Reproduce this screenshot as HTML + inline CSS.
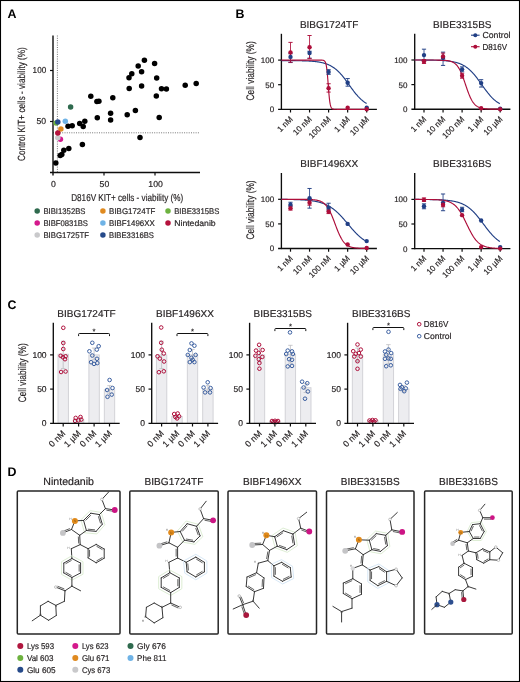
<!DOCTYPE html>
<html><head><meta charset="utf-8"><style>
html,body{margin:0;padding:0;background:#fff;overflow:hidden;}
svg{display:block;will-change:transform;}
text{font-family:"Liberation Sans",sans-serif;text-rendering:geometricPrecision;}
</style></head><body>
<svg width="520" height="682" viewBox="0 0 520 682">
<rect x="0.5" y="0.5" width="519" height="681" fill="none" stroke="#000" stroke-width="1.1"/>
<text x="7.60" y="17.90" font-size="12.4" fill="#000" font-weight="bold">A</text>
<text x="235.60" y="18.40" font-size="12.4" fill="#000" font-weight="bold">B</text>
<text x="7.60" y="309.00" font-size="12.4" fill="#000" font-weight="bold">C</text>
<text x="7.60" y="476.20" font-size="12.4" fill="#000" font-weight="bold">D</text>
<line x1="57.40" y1="35.50" x2="57.40" y2="172.50" stroke="#555" stroke-width="0.8" stroke-dasharray="1 1.3"/>
<line x1="53.00" y1="132.80" x2="199.50" y2="132.80" stroke="#555" stroke-width="0.8" stroke-dasharray="1 1.3"/>
<line x1="53.00" y1="35.50" x2="53.00" y2="175.50" stroke="#0d0d0d" stroke-width="1.4"/>
<line x1="50.00" y1="172.50" x2="200.00" y2="172.50" stroke="#0d0d0d" stroke-width="1.4"/>
<line x1="50.00" y1="121.50" x2="53.00" y2="121.50" stroke="#0d0d0d" stroke-width="1.2"/>
<line x1="104.00" y1="172.50" x2="104.00" y2="175.50" stroke="#0d0d0d" stroke-width="1.2"/>
<line x1="50.00" y1="70.50" x2="53.00" y2="70.50" stroke="#0d0d0d" stroke-width="1.2"/>
<line x1="155.00" y1="172.50" x2="155.00" y2="175.50" stroke="#0d0d0d" stroke-width="1.2"/>
<text x="46.20" y="73.40" font-size="8.7" text-anchor="end" fill="#231f20" stroke="#231f20" stroke-width="0.18" textLength="13.60" lengthAdjust="spacingAndGlyphs">100</text>
<text x="46.20" y="124.40" font-size="8.7" text-anchor="end" fill="#231f20" stroke="#231f20" stroke-width="0.18">50</text>
<text x="53.30" y="186.80" font-size="8.7" text-anchor="middle" fill="#231f20" stroke="#231f20" stroke-width="0.18">0</text>
<text x="104.40" y="186.80" font-size="8.7" text-anchor="middle" fill="#231f20" stroke="#231f20" stroke-width="0.18">50</text>
<text x="155.60" y="186.80" font-size="8.7" text-anchor="middle" fill="#231f20" stroke="#231f20" stroke-width="0.18">100</text>
<text x="71.20" y="200.70" font-size="10" fill="#231f20" stroke="#231f20" stroke-width="0.18" textLength="112.00" lengthAdjust="spacingAndGlyphs">D816V KIT+ cells - viability (%)</text>
<text x="25.30" y="161.00" font-size="10.4" fill="#231f20" stroke="#231f20" stroke-width="0.18" textLength="113.80" lengthAdjust="spacingAndGlyphs" transform="rotate(-90 25.30 161.00)">Control KIT+ cells - viability (%)</text>
<circle cx="90.80" cy="96.30" r="2.75" fill="#000"/>
<circle cx="96.90" cy="101.50" r="2.75" fill="#000"/>
<circle cx="98.90" cy="101.20" r="2.75" fill="#000"/>
<circle cx="112.80" cy="97.70" r="2.75" fill="#000"/>
<circle cx="129.00" cy="77.70" r="2.75" fill="#000"/>
<circle cx="129.20" cy="88.50" r="2.75" fill="#000"/>
<circle cx="110.60" cy="113.30" r="2.75" fill="#000"/>
<circle cx="127.20" cy="114.70" r="2.75" fill="#000"/>
<circle cx="97.30" cy="117.80" r="2.75" fill="#000"/>
<circle cx="110.60" cy="120.10" r="2.75" fill="#000"/>
<circle cx="68.00" cy="126.20" r="2.75" fill="#000"/>
<circle cx="72.20" cy="125.80" r="2.75" fill="#000"/>
<circle cx="79.70" cy="123.60" r="2.75" fill="#000"/>
<circle cx="84.80" cy="121.20" r="2.75" fill="#000"/>
<circle cx="83.20" cy="126.50" r="2.75" fill="#000"/>
<circle cx="144.40" cy="60.20" r="2.75" fill="#000"/>
<circle cx="154.60" cy="63.40" r="2.75" fill="#000"/>
<circle cx="138.20" cy="66.00" r="2.75" fill="#000"/>
<circle cx="131.80" cy="73.70" r="2.75" fill="#000"/>
<circle cx="141.60" cy="71.70" r="2.75" fill="#000"/>
<circle cx="156.70" cy="78.10" r="2.75" fill="#000"/>
<circle cx="141.60" cy="85.90" r="2.75" fill="#000"/>
<circle cx="161.50" cy="88.80" r="2.75" fill="#000"/>
<circle cx="166.40" cy="89.00" r="2.75" fill="#000"/>
<circle cx="185.20" cy="85.30" r="2.75" fill="#000"/>
<circle cx="196.20" cy="83.40" r="2.75" fill="#000"/>
<circle cx="156.30" cy="95.90" r="2.75" fill="#000"/>
<circle cx="135.40" cy="110.50" r="2.75" fill="#000"/>
<circle cx="159.20" cy="117.40" r="2.75" fill="#000"/>
<circle cx="140.00" cy="137.40" r="2.75" fill="#000"/>
<circle cx="55.80" cy="163.10" r="2.75" fill="#000"/>
<circle cx="60.20" cy="155.50" r="2.75" fill="#000"/>
<circle cx="61.80" cy="154.60" r="2.75" fill="#000"/>
<circle cx="63.80" cy="150.30" r="2.75" fill="#000"/>
<circle cx="68.80" cy="148.50" r="2.75" fill="#000"/>
<circle cx="82.40" cy="144.60" r="2.75" fill="#000"/>
<circle cx="60.40" cy="139.30" r="2.75" fill="#d4198c"/>
<circle cx="57.80" cy="137.70" r="2.75" fill="#c9c9cb"/>
<circle cx="60.90" cy="129.00" r="2.75" fill="#e08a1f"/>
<circle cx="57.80" cy="133.00" r="2.75" fill="#b5123c"/>
<circle cx="56.10" cy="123.10" r="2.75" fill="#6db23f"/>
<circle cx="57.80" cy="122.00" r="2.75" fill="#264a8a"/>
<circle cx="65.30" cy="121.20" r="2.75" fill="#6fb3e6"/>
<circle cx="70.60" cy="106.90" r="2.75" fill="#2f6a4e"/>
<circle cx="37.20" cy="210.90" r="2.75" fill="#2f6a4e"/>
<text x="43.40" y="213.50" font-size="8.2" fill="#231f20" stroke="#231f20" stroke-width="0.18" textLength="42.10" lengthAdjust="spacingAndGlyphs">BIBI1352BS</text>
<circle cx="102.90" cy="210.90" r="2.75" fill="#e08a1f"/>
<text x="109.10" y="213.50" font-size="8.2" fill="#231f20" stroke="#231f20" stroke-width="0.18" textLength="46.30" lengthAdjust="spacingAndGlyphs">BIBG1724TF</text>
<circle cx="168.00" cy="210.90" r="2.75" fill="#6db23f"/>
<text x="174.20" y="213.50" font-size="8.2" fill="#231f20" stroke="#231f20" stroke-width="0.18" textLength="45.10" lengthAdjust="spacingAndGlyphs">BIBE3315BS</text>
<circle cx="37.20" cy="222.90" r="2.75" fill="#d4198c"/>
<text x="43.40" y="225.50" font-size="8.2" fill="#231f20" stroke="#231f20" stroke-width="0.18" textLength="44.60" lengthAdjust="spacingAndGlyphs">BIBF0831BS</text>
<circle cx="102.90" cy="222.90" r="2.75" fill="#6fb3e6"/>
<text x="109.10" y="225.50" font-size="8.2" fill="#231f20" stroke="#231f20" stroke-width="0.18" textLength="45.60" lengthAdjust="spacingAndGlyphs">BIBF1496XX</text>
<circle cx="168.00" cy="222.90" r="2.75" fill="#b5123c"/>
<text x="174.20" y="225.50" font-size="8.2" fill="#231f20" stroke="#231f20" stroke-width="0.18" textLength="41.50" lengthAdjust="spacingAndGlyphs">Nintedanib</text>
<circle cx="37.20" cy="235.00" r="2.75" fill="#c9c9cb"/>
<text x="43.40" y="237.60" font-size="8.2" fill="#231f20" stroke="#231f20" stroke-width="0.18" textLength="45.70" lengthAdjust="spacingAndGlyphs">BIBG1725TF</text>
<circle cx="102.90" cy="235.00" r="2.75" fill="#264a8a"/>
<text x="109.10" y="237.60" font-size="8.2" fill="#231f20" stroke="#231f20" stroke-width="0.18" textLength="44.90" lengthAdjust="spacingAndGlyphs">BIBE3316BS</text>
<text x="329.10" y="27.70" font-size="10" text-anchor="middle" fill="#231f20" stroke="#231f20" stroke-width="0.18">BIBG1724TF</text>
<line x1="281.40" y1="33.80" x2="281.40" y2="109.90" stroke="#0d0d0d" stroke-width="1.35"/>
<line x1="278.10" y1="109.30" x2="376.90" y2="109.30" stroke="#0d0d0d" stroke-width="1.35"/>
<line x1="278.10" y1="84.70" x2="281.40" y2="84.70" stroke="#0d0d0d" stroke-width="1.2"/>
<line x1="278.10" y1="60.10" x2="281.40" y2="60.10" stroke="#0d0d0d" stroke-width="1.2"/>
<line x1="290.50" y1="109.30" x2="290.50" y2="112.50" stroke="#0d0d0d" stroke-width="1.2"/>
<line x1="309.55" y1="109.30" x2="309.55" y2="112.50" stroke="#0d0d0d" stroke-width="1.2"/>
<line x1="328.60" y1="109.30" x2="328.60" y2="112.50" stroke="#0d0d0d" stroke-width="1.2"/>
<line x1="347.65" y1="109.30" x2="347.65" y2="112.50" stroke="#0d0d0d" stroke-width="1.2"/>
<line x1="366.70" y1="109.30" x2="366.70" y2="112.50" stroke="#0d0d0d" stroke-width="1.2"/>
<polyline points="281.40,60.61 281.80,60.61 282.20,60.61 282.60,60.62 283.00,60.62 283.40,60.62 283.80,60.62 284.20,60.62 284.60,60.62 285.00,60.62 285.40,60.62 285.80,60.63 286.20,60.63 286.60,60.63 287.00,60.63 287.40,60.63 287.80,60.63 288.20,60.64 288.60,60.64 289.00,60.64 289.40,60.64 289.80,60.65 290.20,60.65 290.60,60.65 291.00,60.65 291.40,60.66 291.80,60.66 292.20,60.66 292.60,60.67 293.00,60.67 293.40,60.67 293.80,60.68 294.20,60.68 294.60,60.68 295.00,60.69 295.40,60.69 295.80,60.70 296.20,60.70 296.60,60.71 297.00,60.71 297.40,60.72 297.80,60.73 298.20,60.73 298.60,60.74 299.00,60.74 299.40,60.75 299.80,60.76 300.20,60.77 300.60,60.78 301.00,60.78 301.40,60.79 301.80,60.80 302.20,60.81 302.60,60.82 303.00,60.83 303.40,60.84 303.80,60.86 304.20,60.87 304.60,60.88 305.00,60.90 305.40,60.91 305.80,60.92 306.20,60.94 306.60,60.96 307.00,60.97 307.40,60.99 307.80,61.01 308.20,61.03 308.60,61.05 309.00,61.07 309.40,61.09 309.80,61.12 310.20,61.14 310.60,61.17 311.00,61.19 311.40,61.22 311.80,61.25 312.20,61.28 312.60,61.31 313.00,61.35 313.40,61.38 313.80,61.42 314.20,61.45 314.60,61.49 315.00,61.54 315.40,61.58 315.80,61.62 316.20,61.67 316.60,61.72 317.00,61.77 317.40,61.83 317.80,61.88 318.20,61.94 318.60,62.00 319.00,62.07 319.40,62.14 319.80,62.21 320.20,62.28 320.60,62.36 321.00,62.44 321.40,62.52 321.80,62.61 322.20,62.70 322.60,62.79 323.00,62.89 323.40,62.99 323.80,63.10 324.20,63.21 324.60,63.33 325.00,63.45 325.40,63.57 325.80,63.71 326.20,63.84 326.60,63.98 327.00,64.13 327.40,64.29 327.80,64.45 328.20,64.61 328.60,64.78 329.00,64.96 329.40,65.15 329.80,65.34 330.20,65.54 330.60,65.75 331.00,65.97 331.40,66.19 331.80,66.42 332.20,66.66 332.60,66.91 333.00,67.17 333.40,67.43 333.80,67.71 334.20,67.99 334.60,68.29 335.00,68.59 335.40,68.90 335.80,69.22 336.20,69.55 336.60,69.89 337.00,70.24 337.40,70.60 337.80,70.97 338.20,71.35 338.60,71.74 339.00,72.14 339.40,72.55 339.80,72.97 340.20,73.40 340.60,73.84 341.00,74.29 341.40,74.74 341.80,75.21 342.20,75.68 342.60,76.17 343.00,76.66 343.40,77.16 343.80,77.66 344.20,78.17 344.60,78.69 345.00,79.22 345.40,79.75 345.80,80.29 346.20,80.83 346.60,81.37 347.00,81.92 347.40,82.47 347.80,83.03 348.20,83.59 348.60,84.14 349.00,84.70 349.40,85.26 349.80,85.82 350.20,86.38 350.60,86.94 351.00,87.49 351.40,88.04 351.80,88.59 352.20,89.14 352.60,89.68 353.00,90.21 353.40,90.74 353.80,91.27 354.20,91.78 354.60,92.30 355.00,92.80 355.40,93.30 355.80,93.79 356.20,94.27 356.60,94.74 357.00,95.21 357.40,95.66 357.80,96.11 358.20,96.55 358.60,96.97 359.00,97.39 359.40,97.80 359.80,98.20 360.20,98.59 360.60,98.97 361.00,99.34 361.40,99.69 361.80,100.04 362.20,100.38 362.60,100.71 363.00,101.03 363.40,101.34 363.80,101.64 364.20,101.94 364.60,102.22 365.00,102.49 365.40,102.76 365.80,103.01 366.20,103.26 366.60,103.50" fill="none" stroke="#213f85" stroke-width="1.15"/>
<polyline points="281.40,60.10 281.80,60.10 282.20,60.10 282.60,60.10 283.00,60.10 283.40,60.10 283.80,60.10 284.20,60.10 284.60,60.10 285.00,60.10 285.40,60.10 285.80,60.10 286.20,60.10 286.60,60.10 287.00,60.10 287.40,60.10 287.80,60.10 288.20,60.10 288.60,60.10 289.00,60.10 289.40,60.10 289.80,60.10 290.20,60.10 290.60,60.10 291.00,60.10 291.40,60.10 291.80,60.10 292.20,60.10 292.60,60.10 293.00,60.10 293.40,60.10 293.80,60.10 294.20,60.10 294.60,60.10 295.00,60.10 295.40,60.10 295.80,60.10 296.20,60.10 296.60,60.10 297.00,60.10 297.40,60.10 297.80,60.10 298.20,60.10 298.60,60.10 299.00,60.10 299.40,60.10 299.80,60.10 300.20,60.10 300.60,60.10 301.00,60.10 301.40,60.10 301.80,60.10 302.20,60.10 302.60,60.10 303.00,60.10 303.40,60.10 303.80,60.10 304.20,60.10 304.60,60.10 305.00,60.10 305.40,60.10 305.80,60.10 306.20,60.10 306.60,60.10 307.00,60.10 307.40,60.10 307.80,60.10 308.20,60.10 308.60,60.10 309.00,60.10 309.40,60.10 309.80,60.10 310.20,60.10 310.60,60.10 311.00,60.10 311.40,60.10 311.80,60.10 312.20,60.10 312.60,60.10 313.00,60.10 313.40,60.10 313.80,60.10 314.20,60.10 314.60,60.10 315.00,60.10 315.40,60.10 315.80,60.10 316.20,60.10 316.60,60.10 317.00,60.10 317.40,60.10 317.80,60.10 318.20,60.10 318.60,60.10 319.00,60.10 319.40,60.10 319.80,60.11 320.20,60.11 320.60,60.11 321.00,60.12 321.40,60.13 321.80,60.15 322.20,60.17 322.60,60.21 323.00,60.27 323.40,60.36 323.80,60.50 324.20,60.71 324.60,61.04 325.00,61.54 325.40,62.29 325.80,63.40 326.20,65.02 326.60,67.31 327.00,70.42 327.40,74.41 327.80,79.19 328.20,84.45 328.60,89.73 329.00,94.56 329.40,98.64 329.80,101.83 330.20,104.19 330.60,105.87 331.00,107.02 331.40,107.80 331.80,108.32 332.20,108.66 332.60,108.88 333.00,109.03 333.40,109.13 333.80,109.19 334.20,109.23 334.60,109.25 335.00,109.27 335.40,109.28 335.80,109.29 336.20,109.29 336.60,109.29 337.00,109.30 337.40,109.30 337.80,109.30 338.20,109.30 338.60,109.30 339.00,109.30 339.40,109.30 339.80,109.30 340.20,109.30 340.60,109.30 341.00,109.30 341.40,109.30 341.80,109.30 342.20,109.30 342.60,109.30 343.00,109.30 343.40,109.30 343.80,109.30 344.20,109.30 344.60,109.30 345.00,109.30 345.40,109.30 345.80,109.30 346.20,109.30 346.60,109.30 347.00,109.30 347.40,109.30 347.80,109.30 348.20,109.30 348.60,109.30 349.00,109.30 349.40,109.30 349.80,109.30 350.20,109.30 350.60,109.30 351.00,109.30 351.40,109.30 351.80,109.30 352.20,109.30 352.60,109.30 353.00,109.30 353.40,109.30 353.80,109.30 354.20,109.30 354.60,109.30 355.00,109.30 355.40,109.30 355.80,109.30 356.20,109.30 356.60,109.30 357.00,109.30 357.40,109.30 357.80,109.30 358.20,109.30 358.60,109.30 359.00,109.30 359.40,109.30 359.80,109.30 360.20,109.30 360.60,109.30 361.00,109.30 361.40,109.30 361.80,109.30 362.20,109.30 362.60,109.30 363.00,109.30 363.40,109.30 363.80,109.30 364.20,109.30 364.60,109.30 365.00,109.30 365.40,109.30 365.80,109.30 366.20,109.30 366.60,109.30" fill="none" stroke="#ad0e3a" stroke-width="1.15"/>
<line x1="290.50" y1="53.70" x2="290.50" y2="62.56" stroke="#213f85" stroke-width="0.85"/>
<line x1="288.40" y1="53.70" x2="292.60" y2="53.70" stroke="#213f85" stroke-width="0.95"/>
<line x1="288.40" y1="62.56" x2="292.60" y2="62.56" stroke="#213f85" stroke-width="0.95"/>
<line x1="309.55" y1="51.24" x2="309.55" y2="58.13" stroke="#213f85" stroke-width="0.85"/>
<line x1="307.45" y1="51.24" x2="311.65" y2="51.24" stroke="#213f85" stroke-width="0.95"/>
<line x1="307.45" y1="58.13" x2="311.65" y2="58.13" stroke="#213f85" stroke-width="0.95"/>
<line x1="328.60" y1="69.69" x2="328.60" y2="74.37" stroke="#213f85" stroke-width="0.85"/>
<line x1="326.50" y1="69.69" x2="330.70" y2="69.69" stroke="#213f85" stroke-width="0.95"/>
<line x1="326.50" y1="74.37" x2="330.70" y2="74.37" stroke="#213f85" stroke-width="0.95"/>
<line x1="347.65" y1="78.55" x2="347.65" y2="86.18" stroke="#213f85" stroke-width="0.85"/>
<line x1="345.55" y1="78.55" x2="349.75" y2="78.55" stroke="#213f85" stroke-width="0.95"/>
<line x1="345.55" y1="86.18" x2="349.75" y2="86.18" stroke="#213f85" stroke-width="0.95"/>
<line x1="290.50" y1="42.39" x2="290.50" y2="62.26" stroke="#ad0e3a" stroke-width="0.85"/>
<line x1="288.40" y1="42.39" x2="292.60" y2="42.39" stroke="#ad0e3a" stroke-width="0.95"/>
<line x1="288.40" y1="62.26" x2="292.60" y2="62.26" stroke="#ad0e3a" stroke-width="0.95"/>
<line x1="309.55" y1="35.50" x2="309.55" y2="58.62" stroke="#ad0e3a" stroke-width="0.85"/>
<line x1="307.45" y1="35.50" x2="311.65" y2="35.50" stroke="#ad0e3a" stroke-width="0.95"/>
<line x1="307.45" y1="58.62" x2="311.65" y2="58.62" stroke="#ad0e3a" stroke-width="0.95"/>
<line x1="328.60" y1="83.72" x2="328.60" y2="92.08" stroke="#ad0e3a" stroke-width="0.85"/>
<line x1="326.50" y1="83.72" x2="330.70" y2="83.72" stroke="#ad0e3a" stroke-width="0.95"/>
<line x1="326.50" y1="92.08" x2="330.70" y2="92.08" stroke="#ad0e3a" stroke-width="0.95"/>
<circle cx="290.50" cy="56.90" r="2.2" fill="#213f85"/>
<circle cx="309.55" cy="52.97" r="2.2" fill="#213f85"/>
<circle cx="328.60" cy="71.91" r="2.2" fill="#213f85"/>
<circle cx="347.65" cy="82.73" r="2.2" fill="#213f85"/>
<circle cx="366.70" cy="107.82" r="2.2" fill="#213f85"/>
<circle cx="290.50" cy="52.42" r="2.2" fill="#ad0e3a"/>
<circle cx="309.55" cy="47.31" r="2.2" fill="#ad0e3a"/>
<circle cx="328.60" cy="88.14" r="2.2" fill="#ad0e3a"/>
<circle cx="347.65" cy="107.82" r="2.2" fill="#ad0e3a"/>
<circle cx="366.70" cy="109.30" r="2.2" fill="#ad0e3a"/>
<text x="274.20" y="63.00" font-size="8" text-anchor="end" fill="#231f20" stroke="#231f20" stroke-width="0.18">100</text>
<text x="274.20" y="87.60" font-size="8" text-anchor="end" fill="#231f20" stroke="#231f20" stroke-width="0.18">50</text>
<text x="274.20" y="112.20" font-size="8" text-anchor="end" fill="#231f20" stroke="#231f20" stroke-width="0.18">0</text>
<text x="254.50" y="100.40" font-size="11" fill="#231f20" stroke="#231f20" stroke-width="0.18" textLength="59.20" lengthAdjust="spacingAndGlyphs" transform="rotate(-90 254.50 100.40)">Cell viability (%)</text>
<text x="293.30" y="119.70" font-size="8.2" text-anchor="end" fill="#231f20" stroke="#231f20" stroke-width="0.18" transform="rotate(-45 293.30 119.70)">1 nM</text>
<text x="312.35" y="119.70" font-size="8.2" text-anchor="end" fill="#231f20" stroke="#231f20" stroke-width="0.18" transform="rotate(-45 312.35 119.70)">10 nM</text>
<text x="331.40" y="119.70" font-size="8.2" text-anchor="end" fill="#231f20" stroke="#231f20" stroke-width="0.18" transform="rotate(-45 331.40 119.70)">100 nM</text>
<text x="350.45" y="119.70" font-size="8.2" text-anchor="end" fill="#231f20" stroke="#231f20" stroke-width="0.18" transform="rotate(-45 350.45 119.70)">1 µM</text>
<text x="369.50" y="119.70" font-size="8.2" text-anchor="end" fill="#231f20" stroke="#231f20" stroke-width="0.18" transform="rotate(-45 369.50 119.70)">10 µM</text>
<text x="462.30" y="27.60" font-size="10" text-anchor="middle" fill="#231f20" stroke="#231f20" stroke-width="0.18">BIBE3315BS</text>
<line x1="414.70" y1="33.70" x2="414.70" y2="109.80" stroke="#0d0d0d" stroke-width="1.35"/>
<line x1="411.40" y1="109.20" x2="510.40" y2="109.20" stroke="#0d0d0d" stroke-width="1.35"/>
<line x1="411.40" y1="84.60" x2="414.70" y2="84.60" stroke="#0d0d0d" stroke-width="1.2"/>
<line x1="411.40" y1="60.00" x2="414.70" y2="60.00" stroke="#0d0d0d" stroke-width="1.2"/>
<line x1="424.00" y1="109.20" x2="424.00" y2="112.40" stroke="#0d0d0d" stroke-width="1.2"/>
<line x1="443.05" y1="109.20" x2="443.05" y2="112.40" stroke="#0d0d0d" stroke-width="1.2"/>
<line x1="462.10" y1="109.20" x2="462.10" y2="112.40" stroke="#0d0d0d" stroke-width="1.2"/>
<line x1="481.15" y1="109.20" x2="481.15" y2="112.40" stroke="#0d0d0d" stroke-width="1.2"/>
<line x1="500.20" y1="109.20" x2="500.20" y2="112.40" stroke="#0d0d0d" stroke-width="1.2"/>
<polyline points="414.70,60.02 415.10,60.02 415.50,60.02 415.90,60.03 416.30,60.03 416.70,60.03 417.10,60.03 417.50,60.03 417.90,60.03 418.30,60.03 418.70,60.04 419.10,60.04 419.50,60.04 419.90,60.04 420.30,60.04 420.70,60.04 421.10,60.05 421.50,60.05 421.90,60.05 422.30,60.05 422.70,60.06 423.10,60.06 423.50,60.06 423.90,60.06 424.30,60.07 424.70,60.07 425.10,60.07 425.50,60.08 425.90,60.08 426.30,60.08 426.70,60.09 427.10,60.09 427.50,60.10 427.90,60.10 428.30,60.11 428.70,60.11 429.10,60.12 429.50,60.12 429.90,60.13 430.30,60.13 430.70,60.14 431.10,60.15 431.50,60.15 431.90,60.16 432.30,60.17 432.70,60.18 433.10,60.18 433.50,60.19 433.90,60.20 434.30,60.21 434.70,60.22 435.10,60.23 435.50,60.24 435.90,60.25 436.30,60.27 436.70,60.28 437.10,60.29 437.50,60.30 437.90,60.32 438.30,60.33 438.70,60.35 439.10,60.37 439.50,60.38 439.90,60.40 440.30,60.42 440.70,60.44 441.10,60.46 441.50,60.48 441.90,60.50 442.30,60.53 442.70,60.55 443.10,60.58 443.50,60.60 443.90,60.63 444.30,60.66 444.70,60.69 445.10,60.72 445.50,60.76 445.90,60.79 446.30,60.83 446.70,60.87 447.10,60.91 447.50,60.95 447.90,60.99 448.30,61.04 448.70,61.09 449.10,61.14 449.50,61.19 449.90,61.24 450.30,61.30 450.70,61.36 451.10,61.42 451.50,61.48 451.90,61.55 452.30,61.62 452.70,61.70 453.10,61.77 453.50,61.85 453.90,61.94 454.30,62.02 454.70,62.12 455.10,62.21 455.50,62.31 455.90,62.41 456.30,62.52 456.70,62.63 457.10,62.75 457.50,62.87 457.90,63.00 458.30,63.13 458.70,63.27 459.10,63.41 459.50,63.56 459.90,63.71 460.30,63.87 460.70,64.04 461.10,64.21 461.50,64.39 461.90,64.58 462.30,64.78 462.70,64.98 463.10,65.19 463.50,65.40 463.90,65.63 464.30,65.86 464.70,66.10 465.10,66.35 465.50,66.61 465.90,66.88 466.30,67.16 466.70,67.44 467.10,67.74 467.50,68.04 467.90,68.35 468.30,68.68 468.70,69.01 469.10,69.35 469.50,69.71 469.90,70.07 470.30,70.44 470.70,70.82 471.10,71.22 471.50,71.62 471.90,72.03 472.30,72.46 472.70,72.89 473.10,73.33 473.50,73.78 473.90,74.24 474.30,74.71 474.70,75.19 475.10,75.67 475.50,76.17 475.90,76.67 476.30,77.18 476.70,77.70 477.10,78.22 477.50,78.75 477.90,79.29 478.30,79.83 478.70,80.37 479.10,80.93 479.50,81.48 479.90,82.04 480.30,82.60 480.70,83.16 481.10,83.72 481.50,84.29 481.90,84.85 482.30,85.42 482.70,85.98 483.10,86.54 483.50,87.10 483.90,87.66 484.30,88.22 484.70,88.77 485.10,89.31 485.50,89.85 485.90,90.39 486.30,90.92 486.70,91.45 487.10,91.96 487.50,92.47 487.90,92.98 488.30,93.47 488.70,93.96 489.10,94.44 489.50,94.91 489.90,95.37 490.30,95.82 490.70,96.27 491.10,96.70 491.50,97.12 491.90,97.54 492.30,97.94 492.70,98.33 493.10,98.72 493.50,99.09 493.90,99.46 494.30,99.81 494.70,100.15 495.10,100.49 495.50,100.81 495.90,101.13 496.30,101.43 496.70,101.73 497.10,102.01 497.50,102.29 497.90,102.56 498.30,102.82 498.70,103.07 499.10,103.31 499.50,103.55 499.90,103.77" fill="none" stroke="#213f85" stroke-width="1.15"/>
<polyline points="414.70,60.00 415.10,60.00 415.50,60.00 415.90,60.00 416.30,60.00 416.70,60.00 417.10,60.00 417.50,60.00 417.90,60.00 418.30,60.00 418.70,60.00 419.10,60.00 419.50,60.00 419.90,60.00 420.30,60.00 420.70,60.00 421.10,60.00 421.50,60.00 421.90,60.00 422.30,60.00 422.70,60.00 423.10,60.00 423.50,60.00 423.90,60.00 424.30,60.00 424.70,60.00 425.10,60.00 425.50,60.00 425.90,60.00 426.30,60.00 426.70,60.00 427.10,60.00 427.50,60.01 427.90,60.01 428.30,60.01 428.70,60.01 429.10,60.01 429.50,60.01 429.90,60.01 430.30,60.01 430.70,60.01 431.10,60.01 431.50,60.01 431.90,60.01 432.30,60.02 432.70,60.02 433.10,60.02 433.50,60.02 433.90,60.02 434.30,60.03 434.70,60.03 435.10,60.03 435.50,60.03 435.90,60.04 436.30,60.04 436.70,60.05 437.10,60.05 437.50,60.06 437.90,60.06 438.30,60.07 438.70,60.07 439.10,60.08 439.50,60.09 439.90,60.10 440.30,60.11 440.70,60.12 441.10,60.13 441.50,60.15 441.90,60.16 442.30,60.18 442.70,60.20 443.10,60.22 443.50,60.24 443.90,60.26 444.30,60.29 444.70,60.32 445.10,60.35 445.50,60.39 445.90,60.42 446.30,60.47 446.70,60.51 447.10,60.57 447.50,60.62 447.90,60.68 448.30,60.75 448.70,60.83 449.10,60.91 449.50,61.00 449.90,61.10 450.30,61.21 450.70,61.33 451.10,61.46 451.50,61.60 451.90,61.76 452.30,61.93 452.70,62.12 453.10,62.32 453.50,62.55 453.90,62.79 454.30,63.06 454.70,63.35 455.10,63.66 455.50,64.00 455.90,64.37 456.30,64.77 456.70,65.21 457.10,65.67 457.50,66.18 457.90,66.72 458.30,67.30 458.70,67.92 459.10,68.58 459.50,69.29 459.90,70.04 460.30,70.84 460.70,71.68 461.10,72.56 461.50,73.49 461.90,74.45 462.30,75.46 462.70,76.50 463.10,77.58 463.50,78.69 463.90,79.82 464.30,80.97 464.70,82.14 465.10,83.33 465.50,84.51 465.90,85.70 466.30,86.89 466.70,88.06 467.10,89.22 467.50,90.35 467.90,91.46 468.30,92.54 468.70,93.59 469.10,94.60 469.50,95.58 469.90,96.51 470.30,97.40 470.70,98.24 471.10,99.04 471.50,99.80 471.90,100.52 472.30,101.19 472.70,101.81 473.10,102.40 473.50,102.95 473.90,103.46 474.30,103.93 474.70,104.37 475.10,104.77 475.50,105.15 475.90,105.49 476.30,105.81 476.70,106.10 477.10,106.37 477.50,106.62 477.90,106.85 478.30,107.05 478.70,107.24 479.10,107.42 479.50,107.58 479.90,107.72 480.30,107.85 480.70,107.97 481.10,108.09 481.50,108.19 481.90,108.28 482.30,108.36 482.70,108.44 483.10,108.51 483.50,108.57 483.90,108.63 484.30,108.68 484.70,108.73 485.10,108.77 485.50,108.81 485.90,108.85 486.30,108.88 486.70,108.91 487.10,108.93 487.50,108.96 487.90,108.98 488.30,109.00 488.70,109.02 489.10,109.04 489.50,109.05 489.90,109.06 490.30,109.08 490.70,109.09 491.10,109.10 491.50,109.11 491.90,109.12 492.30,109.12 492.70,109.13 493.10,109.14 493.50,109.14 493.90,109.15 494.30,109.15 494.70,109.16 495.10,109.16 495.50,109.16 495.90,109.17 496.30,109.17 496.70,109.17 497.10,109.18 497.50,109.18 497.90,109.18 498.30,109.18 498.70,109.18 499.10,109.19 499.50,109.19 499.90,109.19" fill="none" stroke="#ad0e3a" stroke-width="1.15"/>
<line x1="424.00" y1="49.18" x2="424.00" y2="60.98" stroke="#213f85" stroke-width="0.85"/>
<line x1="421.90" y1="49.18" x2="426.10" y2="49.18" stroke="#213f85" stroke-width="0.95"/>
<line x1="421.90" y1="60.98" x2="426.10" y2="60.98" stroke="#213f85" stroke-width="0.95"/>
<line x1="443.05" y1="52.13" x2="443.05" y2="65.41" stroke="#213f85" stroke-width="0.85"/>
<line x1="440.95" y1="52.13" x2="445.15" y2="52.13" stroke="#213f85" stroke-width="0.95"/>
<line x1="440.95" y1="65.41" x2="445.15" y2="65.41" stroke="#213f85" stroke-width="0.95"/>
<line x1="462.10" y1="66.89" x2="462.10" y2="71.81" stroke="#213f85" stroke-width="0.85"/>
<line x1="460.00" y1="66.89" x2="464.20" y2="66.89" stroke="#213f85" stroke-width="0.95"/>
<line x1="460.00" y1="71.81" x2="464.20" y2="71.81" stroke="#213f85" stroke-width="0.95"/>
<line x1="481.15" y1="79.68" x2="481.15" y2="87.06" stroke="#213f85" stroke-width="0.85"/>
<line x1="479.05" y1="79.68" x2="483.25" y2="79.68" stroke="#213f85" stroke-width="0.95"/>
<line x1="479.05" y1="87.06" x2="483.25" y2="87.06" stroke="#213f85" stroke-width="0.95"/>
<line x1="424.00" y1="59.51" x2="424.00" y2="63.44" stroke="#ad0e3a" stroke-width="0.85"/>
<line x1="421.90" y1="59.51" x2="426.10" y2="59.51" stroke="#ad0e3a" stroke-width="0.95"/>
<line x1="421.90" y1="63.44" x2="426.10" y2="63.44" stroke="#ad0e3a" stroke-width="0.95"/>
<line x1="443.05" y1="53.11" x2="443.05" y2="60.49" stroke="#ad0e3a" stroke-width="0.85"/>
<line x1="440.95" y1="53.11" x2="445.15" y2="53.11" stroke="#ad0e3a" stroke-width="0.95"/>
<line x1="440.95" y1="60.49" x2="445.15" y2="60.49" stroke="#ad0e3a" stroke-width="0.95"/>
<line x1="462.10" y1="73.28" x2="462.10" y2="78.20" stroke="#ad0e3a" stroke-width="0.85"/>
<line x1="460.00" y1="73.28" x2="464.20" y2="73.28" stroke="#ad0e3a" stroke-width="0.95"/>
<line x1="460.00" y1="78.20" x2="464.20" y2="78.20" stroke="#ad0e3a" stroke-width="0.95"/>
<circle cx="424.00" cy="55.08" r="2.2" fill="#213f85"/>
<circle cx="443.05" cy="58.03" r="2.2" fill="#213f85"/>
<circle cx="462.10" cy="69.35" r="2.2" fill="#213f85"/>
<circle cx="481.15" cy="83.12" r="2.2" fill="#213f85"/>
<circle cx="500.20" cy="108.71" r="2.2" fill="#213f85"/>
<circle cx="424.00" cy="61.48" r="2.2" fill="#ad0e3a"/>
<circle cx="443.05" cy="56.56" r="2.2" fill="#ad0e3a"/>
<circle cx="462.10" cy="75.74" r="2.2" fill="#ad0e3a"/>
<circle cx="481.15" cy="108.22" r="2.2" fill="#ad0e3a"/>
<circle cx="500.20" cy="109.20" r="2.2" fill="#ad0e3a"/>
<text x="407.50" y="62.90" font-size="8" text-anchor="end" fill="#231f20" stroke="#231f20" stroke-width="0.18">100</text>
<text x="407.50" y="87.50" font-size="8" text-anchor="end" fill="#231f20" stroke="#231f20" stroke-width="0.18">50</text>
<text x="407.50" y="112.10" font-size="8" text-anchor="end" fill="#231f20" stroke="#231f20" stroke-width="0.18">0</text>
<text x="426.80" y="119.60" font-size="8.2" text-anchor="end" fill="#231f20" stroke="#231f20" stroke-width="0.18" transform="rotate(-45 426.80 119.60)">1 nM</text>
<text x="445.85" y="119.60" font-size="8.2" text-anchor="end" fill="#231f20" stroke="#231f20" stroke-width="0.18" transform="rotate(-45 445.85 119.60)">10 nM</text>
<text x="464.90" y="119.60" font-size="8.2" text-anchor="end" fill="#231f20" stroke="#231f20" stroke-width="0.18" transform="rotate(-45 464.90 119.60)">100 nM</text>
<text x="483.95" y="119.60" font-size="8.2" text-anchor="end" fill="#231f20" stroke="#231f20" stroke-width="0.18" transform="rotate(-45 483.95 119.60)">1 µM</text>
<text x="503.00" y="119.60" font-size="8.2" text-anchor="end" fill="#231f20" stroke="#231f20" stroke-width="0.18" transform="rotate(-45 503.00 119.60)">10 µM</text>
<line x1="471.00" y1="35.20" x2="479.60" y2="35.20" stroke="#213f85" stroke-width="1.1"/>
<circle cx="475.30" cy="35.20" r="2.0" fill="#213f85"/>
<text x="482.50" y="38.10" font-size="8.7" fill="#231f20" stroke="#231f20" stroke-width="0.18">Control</text>
<line x1="471.00" y1="46.70" x2="479.60" y2="46.70" stroke="#ad0e3a" stroke-width="1.1"/>
<circle cx="475.30" cy="46.70" r="2.0" fill="#ad0e3a"/>
<text x="482.50" y="49.60" font-size="8.7" fill="#231f20" stroke="#231f20" stroke-width="0.18" textLength="24.60" lengthAdjust="spacingAndGlyphs">D816V</text>
<text x="329.20" y="166.90" font-size="10" text-anchor="middle" fill="#231f20" stroke="#231f20" stroke-width="0.18">BIBF1496XX</text>
<line x1="281.40" y1="173.00" x2="281.40" y2="249.10" stroke="#0d0d0d" stroke-width="1.35"/>
<line x1="278.10" y1="248.50" x2="376.90" y2="248.50" stroke="#0d0d0d" stroke-width="1.35"/>
<line x1="278.10" y1="223.90" x2="281.40" y2="223.90" stroke="#0d0d0d" stroke-width="1.2"/>
<line x1="278.10" y1="199.30" x2="281.40" y2="199.30" stroke="#0d0d0d" stroke-width="1.2"/>
<line x1="290.50" y1="248.50" x2="290.50" y2="251.70" stroke="#0d0d0d" stroke-width="1.2"/>
<line x1="309.55" y1="248.50" x2="309.55" y2="251.70" stroke="#0d0d0d" stroke-width="1.2"/>
<line x1="328.60" y1="248.50" x2="328.60" y2="251.70" stroke="#0d0d0d" stroke-width="1.2"/>
<line x1="347.65" y1="248.50" x2="347.65" y2="251.70" stroke="#0d0d0d" stroke-width="1.2"/>
<line x1="366.70" y1="248.50" x2="366.70" y2="251.70" stroke="#0d0d0d" stroke-width="1.2"/>
<polyline points="281.40,199.38 281.80,199.38 282.20,199.39 282.60,199.39 283.00,199.39 283.40,199.40 283.80,199.40 284.20,199.40 284.60,199.41 285.00,199.41 285.40,199.42 285.80,199.42 286.20,199.43 286.60,199.43 287.00,199.44 287.40,199.44 287.80,199.45 288.20,199.45 288.60,199.46 289.00,199.47 289.40,199.47 289.80,199.48 290.20,199.49 290.60,199.49 291.00,199.50 291.40,199.51 291.80,199.52 292.20,199.53 292.60,199.53 293.00,199.54 293.40,199.55 293.80,199.56 294.20,199.57 294.60,199.58 295.00,199.60 295.40,199.61 295.80,199.62 296.20,199.63 296.60,199.64 297.00,199.66 297.40,199.67 297.80,199.69 298.20,199.70 298.60,199.72 299.00,199.73 299.40,199.75 299.80,199.77 300.20,199.79 300.60,199.81 301.00,199.83 301.40,199.85 301.80,199.87 302.20,199.89 302.60,199.91 303.00,199.94 303.40,199.96 303.80,199.99 304.20,200.01 304.60,200.04 305.00,200.07 305.40,200.10 305.80,200.13 306.20,200.16 306.60,200.20 307.00,200.23 307.40,200.27 307.80,200.30 308.20,200.34 308.60,200.38 309.00,200.42 309.40,200.47 309.80,200.51 310.20,200.56 310.60,200.61 311.00,200.66 311.40,200.71 311.80,200.76 312.20,200.82 312.60,200.88 313.00,200.94 313.40,201.00 313.80,201.06 314.20,201.13 314.60,201.20 315.00,201.27 315.40,201.35 315.80,201.42 316.20,201.50 316.60,201.59 317.00,201.67 317.40,201.76 317.80,201.85 318.20,201.95 318.60,202.05 319.00,202.15 319.40,202.26 319.80,202.37 320.20,202.48 320.60,202.60 321.00,202.72 321.40,202.84 321.80,202.97 322.20,203.10 322.60,203.24 323.00,203.38 323.40,203.53 323.80,203.68 324.20,203.84 324.60,204.00 325.00,204.17 325.40,204.34 325.80,204.52 326.20,204.70 326.60,204.89 327.00,205.09 327.40,205.29 327.80,205.49 328.20,205.71 328.60,205.92 329.00,206.15 329.40,206.38 329.80,206.62 330.20,206.86 330.60,207.11 331.00,207.37 331.40,207.64 331.80,207.91 332.20,208.18 332.60,208.47 333.00,208.76 333.40,209.06 333.80,209.37 334.20,209.68 334.60,210.00 335.00,210.33 335.40,210.66 335.80,211.00 336.20,211.35 336.60,211.71 337.00,212.07 337.40,212.44 337.80,212.82 338.20,213.20 338.60,213.59 339.00,213.98 339.40,214.38 339.80,214.79 340.20,215.20 340.60,215.62 341.00,216.05 341.40,216.48 341.80,216.91 342.20,217.35 342.60,217.80 343.00,218.25 343.40,218.70 343.80,219.15 344.20,219.61 344.60,220.08 345.00,220.54 345.40,221.01 345.80,221.48 346.20,221.95 346.60,222.43 347.00,222.90 347.40,223.38 347.80,223.85 348.20,224.33 348.60,224.80 349.00,225.28 349.40,225.75 349.80,226.22 350.20,226.69 350.60,227.16 351.00,227.63 351.40,228.09 351.80,228.55 352.20,229.01 352.60,229.46 353.00,229.91 353.40,230.36 353.80,230.80 354.20,231.23 354.60,231.67 355.00,232.09 355.40,232.51 355.80,232.93 356.20,233.33 356.60,233.74 357.00,234.13 357.40,234.52 357.80,234.91 358.20,235.28 358.60,235.66 359.00,236.02 359.40,236.38 359.80,236.73 360.20,237.07 360.60,237.40 361.00,237.73 361.40,238.06 361.80,238.37 362.20,238.68 362.60,238.98 363.00,239.27 363.40,239.56 363.80,239.84 364.20,240.11 364.60,240.38 365.00,240.63 365.40,240.89 365.80,241.13 366.20,241.37 366.60,241.60" fill="none" stroke="#213f85" stroke-width="1.15"/>
<polyline points="281.40,199.30 281.80,199.30 282.20,199.30 282.60,199.30 283.00,199.30 283.40,199.30 283.80,199.30 284.20,199.30 284.60,199.30 285.00,199.30 285.40,199.30 285.80,199.30 286.20,199.30 286.60,199.30 287.00,199.30 287.40,199.30 287.80,199.30 288.20,199.30 288.60,199.30 289.00,199.30 289.40,199.30 289.80,199.30 290.20,199.30 290.60,199.30 291.00,199.30 291.40,199.30 291.80,199.30 292.20,199.30 292.60,199.30 293.00,199.31 293.40,199.31 293.80,199.31 294.20,199.31 294.60,199.31 295.00,199.31 295.40,199.31 295.80,199.31 296.20,199.31 296.60,199.31 297.00,199.31 297.40,199.31 297.80,199.31 298.20,199.32 298.60,199.32 299.00,199.32 299.40,199.32 299.80,199.32 300.20,199.32 300.60,199.33 301.00,199.33 301.40,199.33 301.80,199.34 302.20,199.34 302.60,199.34 303.00,199.35 303.40,199.35 303.80,199.35 304.20,199.36 304.60,199.36 305.00,199.37 305.40,199.38 305.80,199.38 306.20,199.39 306.60,199.40 307.00,199.41 307.40,199.42 307.80,199.43 308.20,199.44 308.60,199.45 309.00,199.47 309.40,199.48 309.80,199.50 310.20,199.52 310.60,199.54 311.00,199.56 311.40,199.58 311.80,199.61 312.20,199.64 312.60,199.67 313.00,199.70 313.40,199.74 313.80,199.78 314.20,199.82 314.60,199.87 315.00,199.92 315.40,199.97 315.80,200.03 316.20,200.10 316.60,200.17 317.00,200.25 317.40,200.33 317.80,200.42 318.20,200.52 318.60,200.63 319.00,200.75 319.40,200.87 319.80,201.01 320.20,201.16 320.60,201.32 321.00,201.50 321.40,201.69 321.80,201.89 322.20,202.12 322.60,202.36 323.00,202.62 323.40,202.89 323.80,203.20 324.20,203.52 324.60,203.87 325.00,204.24 325.40,204.64 325.80,205.07 326.20,205.53 326.60,206.02 327.00,206.54 327.40,207.09 327.80,207.68 328.20,208.30 328.60,208.96 329.00,209.65 329.40,210.38 329.80,211.15 330.20,211.95 330.60,212.78 331.00,213.65 331.40,214.55 331.80,215.48 332.20,216.44 332.60,217.43 333.00,218.43 333.40,219.46 333.80,220.50 334.20,221.56 334.60,222.62 335.00,223.69 335.40,224.76 335.80,225.83 336.20,226.89 336.60,227.94 337.00,228.97 337.40,229.99 337.80,230.98 338.20,231.95 338.60,232.89 339.00,233.80 339.40,234.69 339.80,235.53 340.20,236.35 340.60,237.13 341.00,237.87 341.40,238.58 341.80,239.25 342.20,239.88 342.60,240.48 343.00,241.05 343.40,241.59 343.80,242.09 344.20,242.56 344.60,243.00 345.00,243.41 345.40,243.79 345.80,244.15 346.20,244.48 346.60,244.79 347.00,245.08 347.40,245.35 347.80,245.59 348.20,245.82 348.60,246.03 349.00,246.23 349.40,246.41 349.80,246.58 350.20,246.73 350.60,246.88 351.00,247.01 351.40,247.13 351.80,247.24 352.20,247.34 352.60,247.44 353.00,247.52 353.40,247.60 353.80,247.68 354.20,247.74 354.60,247.81 355.00,247.86 355.40,247.92 355.80,247.96 356.20,248.01 356.60,248.05 357.00,248.09 357.40,248.12 357.80,248.15 358.20,248.18 358.60,248.21 359.00,248.23 359.40,248.25 359.80,248.27 360.20,248.29 360.60,248.31 361.00,248.33 361.40,248.34 361.80,248.35 362.20,248.37 362.60,248.38 363.00,248.39 363.40,248.40 363.80,248.41 364.20,248.41 364.60,248.42 365.00,248.43 365.40,248.43 365.80,248.44 366.20,248.44 366.60,248.45" fill="none" stroke="#ad0e3a" stroke-width="1.15"/>
<line x1="290.50" y1="202.25" x2="290.50" y2="206.68" stroke="#213f85" stroke-width="0.85"/>
<line x1="288.40" y1="202.25" x2="292.60" y2="202.25" stroke="#213f85" stroke-width="0.95"/>
<line x1="288.40" y1="206.68" x2="292.60" y2="206.68" stroke="#213f85" stroke-width="0.95"/>
<line x1="309.55" y1="188.48" x2="309.55" y2="208.16" stroke="#213f85" stroke-width="0.85"/>
<line x1="307.45" y1="188.48" x2="311.65" y2="188.48" stroke="#213f85" stroke-width="0.95"/>
<line x1="307.45" y1="208.16" x2="311.65" y2="208.16" stroke="#213f85" stroke-width="0.95"/>
<line x1="328.60" y1="203.24" x2="328.60" y2="210.12" stroke="#213f85" stroke-width="0.85"/>
<line x1="326.50" y1="203.24" x2="330.70" y2="203.24" stroke="#213f85" stroke-width="0.95"/>
<line x1="326.50" y1="210.12" x2="330.70" y2="210.12" stroke="#213f85" stroke-width="0.95"/>
<line x1="290.50" y1="205.70" x2="290.50" y2="210.12" stroke="#ad0e3a" stroke-width="0.85"/>
<line x1="288.40" y1="205.70" x2="292.60" y2="205.70" stroke="#ad0e3a" stroke-width="0.95"/>
<line x1="288.40" y1="210.12" x2="292.60" y2="210.12" stroke="#ad0e3a" stroke-width="0.95"/>
<line x1="309.55" y1="200.28" x2="309.55" y2="205.20" stroke="#ad0e3a" stroke-width="0.85"/>
<line x1="307.45" y1="200.28" x2="311.65" y2="200.28" stroke="#ad0e3a" stroke-width="0.95"/>
<line x1="307.45" y1="205.20" x2="311.65" y2="205.20" stroke="#ad0e3a" stroke-width="0.95"/>
<line x1="328.60" y1="209.14" x2="328.60" y2="213.57" stroke="#ad0e3a" stroke-width="0.85"/>
<line x1="326.50" y1="209.14" x2="330.70" y2="209.14" stroke="#ad0e3a" stroke-width="0.95"/>
<line x1="326.50" y1="213.57" x2="330.70" y2="213.57" stroke="#ad0e3a" stroke-width="0.95"/>
<circle cx="290.50" cy="204.71" r="2.2" fill="#213f85"/>
<circle cx="309.55" cy="198.32" r="2.2" fill="#213f85"/>
<circle cx="328.60" cy="207.66" r="2.2" fill="#213f85"/>
<circle cx="347.65" cy="223.90" r="2.2" fill="#213f85"/>
<circle cx="366.70" cy="241.12" r="2.2" fill="#213f85"/>
<circle cx="290.50" cy="208.16" r="2.2" fill="#ad0e3a"/>
<circle cx="309.55" cy="202.74" r="2.2" fill="#ad0e3a"/>
<circle cx="328.60" cy="211.60" r="2.2" fill="#ad0e3a"/>
<circle cx="347.65" cy="244.56" r="2.2" fill="#ad0e3a"/>
<circle cx="366.70" cy="248.01" r="2.2" fill="#ad0e3a"/>
<text x="274.20" y="202.20" font-size="8" text-anchor="end" fill="#231f20" stroke="#231f20" stroke-width="0.18">100</text>
<text x="274.20" y="226.80" font-size="8" text-anchor="end" fill="#231f20" stroke="#231f20" stroke-width="0.18">50</text>
<text x="274.20" y="251.40" font-size="8" text-anchor="end" fill="#231f20" stroke="#231f20" stroke-width="0.18">0</text>
<text x="254.50" y="239.60" font-size="11" fill="#231f20" stroke="#231f20" stroke-width="0.18" textLength="59.20" lengthAdjust="spacingAndGlyphs" transform="rotate(-90 254.50 239.60)">Cell viability (%)</text>
<text x="293.30" y="258.90" font-size="8.2" text-anchor="end" fill="#231f20" stroke="#231f20" stroke-width="0.18" transform="rotate(-45 293.30 258.90)">1 nM</text>
<text x="312.35" y="258.90" font-size="8.2" text-anchor="end" fill="#231f20" stroke="#231f20" stroke-width="0.18" transform="rotate(-45 312.35 258.90)">10 nM</text>
<text x="331.40" y="258.90" font-size="8.2" text-anchor="end" fill="#231f20" stroke="#231f20" stroke-width="0.18" transform="rotate(-45 331.40 258.90)">100 nM</text>
<text x="350.45" y="258.90" font-size="8.2" text-anchor="end" fill="#231f20" stroke="#231f20" stroke-width="0.18" transform="rotate(-45 350.45 258.90)">1 µM</text>
<text x="369.50" y="258.90" font-size="8.2" text-anchor="end" fill="#231f20" stroke="#231f20" stroke-width="0.18" transform="rotate(-45 369.50 258.90)">10 µM</text>
<text x="462.30" y="167.00" font-size="10" text-anchor="middle" fill="#231f20" stroke="#231f20" stroke-width="0.18">BIBE3316BS</text>
<line x1="414.70" y1="173.10" x2="414.70" y2="249.20" stroke="#0d0d0d" stroke-width="1.35"/>
<line x1="411.40" y1="248.60" x2="510.40" y2="248.60" stroke="#0d0d0d" stroke-width="1.35"/>
<line x1="411.40" y1="224.00" x2="414.70" y2="224.00" stroke="#0d0d0d" stroke-width="1.2"/>
<line x1="411.40" y1="199.40" x2="414.70" y2="199.40" stroke="#0d0d0d" stroke-width="1.2"/>
<line x1="424.00" y1="248.60" x2="424.00" y2="251.80" stroke="#0d0d0d" stroke-width="1.2"/>
<line x1="443.05" y1="248.60" x2="443.05" y2="251.80" stroke="#0d0d0d" stroke-width="1.2"/>
<line x1="462.10" y1="248.60" x2="462.10" y2="251.80" stroke="#0d0d0d" stroke-width="1.2"/>
<line x1="481.15" y1="248.60" x2="481.15" y2="251.80" stroke="#0d0d0d" stroke-width="1.2"/>
<line x1="500.20" y1="248.60" x2="500.20" y2="251.80" stroke="#0d0d0d" stroke-width="1.2"/>
<polyline points="414.70,199.43 415.10,199.43 415.50,199.43 415.90,199.43 416.30,199.43 416.70,199.43 417.10,199.44 417.50,199.44 417.90,199.44 418.30,199.44 418.70,199.44 419.10,199.44 419.50,199.45 419.90,199.45 420.30,199.45 420.70,199.45 421.10,199.46 421.50,199.46 421.90,199.46 422.30,199.46 422.70,199.47 423.10,199.47 423.50,199.47 423.90,199.48 424.30,199.48 424.70,199.48 425.10,199.49 425.50,199.49 425.90,199.49 426.30,199.50 426.70,199.50 427.10,199.51 427.50,199.51 427.90,199.52 428.30,199.52 428.70,199.53 429.10,199.53 429.50,199.54 429.90,199.55 430.30,199.55 430.70,199.56 431.10,199.57 431.50,199.57 431.90,199.58 432.30,199.59 432.70,199.60 433.10,199.61 433.50,199.61 433.90,199.62 434.30,199.63 434.70,199.64 435.10,199.65 435.50,199.67 435.90,199.68 436.30,199.69 436.70,199.70 437.10,199.72 437.50,199.73 437.90,199.74 438.30,199.76 438.70,199.78 439.10,199.79 439.50,199.81 439.90,199.83 440.30,199.85 440.70,199.87 441.10,199.89 441.50,199.91 441.90,199.93 442.30,199.95 442.70,199.98 443.10,200.00 443.50,200.03 443.90,200.06 444.30,200.09 444.70,200.12 445.10,200.15 445.50,200.18 445.90,200.22 446.30,200.25 446.70,200.29 447.10,200.33 447.50,200.37 447.90,200.41 448.30,200.45 448.70,200.50 449.10,200.55 449.50,200.60 449.90,200.65 450.30,200.70 450.70,200.76 451.10,200.82 451.50,200.88 451.90,200.94 452.30,201.01 452.70,201.08 453.10,201.15 453.50,201.22 453.90,201.30 454.30,201.38 454.70,201.47 455.10,201.56 455.50,201.65 455.90,201.74 456.30,201.84 456.70,201.95 457.10,202.05 457.50,202.16 457.90,202.28 458.30,202.40 458.70,202.52 459.10,202.65 459.50,202.79 459.90,202.93 460.30,203.07 460.70,203.23 461.10,203.38 461.50,203.54 461.90,203.71 462.30,203.89 462.70,204.07 463.10,204.25 463.50,204.45 463.90,204.65 464.30,204.86 464.70,205.07 465.10,205.29 465.50,205.52 465.90,205.76 466.30,206.00 466.70,206.26 467.10,206.52 467.50,206.79 467.90,207.06 468.30,207.35 468.70,207.64 469.10,207.95 469.50,208.26 469.90,208.58 470.30,208.91 470.70,209.25 471.10,209.59 471.50,209.95 471.90,210.31 472.30,210.69 472.70,211.07 473.10,211.46 473.50,211.86 473.90,212.27 474.30,212.69 474.70,213.12 475.10,213.55 475.50,214.00 475.90,214.45 476.30,214.90 476.70,215.37 477.10,215.84 477.50,216.32 477.90,216.81 478.30,217.30 478.70,217.80 479.10,218.30 479.50,218.81 479.90,219.33 480.30,219.84 480.70,220.37 481.10,220.89 481.50,221.42 481.90,221.95 482.30,222.48 482.70,223.02 483.10,223.55 483.50,224.09 483.90,224.62 484.30,225.16 484.70,225.69 485.10,226.22 485.50,226.75 485.90,227.28 486.30,227.80 486.70,228.32 487.10,228.84 487.50,229.35 487.90,229.86 488.30,230.36 488.70,230.86 489.10,231.35 489.50,231.83 489.90,232.31 490.30,232.78 490.70,233.24 491.10,233.70 491.50,234.15 491.90,234.59 492.30,235.02 492.70,235.44 493.10,235.86 493.50,236.26 493.90,236.66 494.30,237.05 494.70,237.43 495.10,237.80 495.50,238.17 495.90,238.52 496.30,238.86 496.70,239.20 497.10,239.52 497.50,239.84 497.90,240.15 498.30,240.45 498.70,240.74 499.10,241.03 499.50,241.30 499.90,241.57" fill="none" stroke="#213f85" stroke-width="1.15"/>
<polyline points="414.70,199.41 415.10,199.41 415.50,199.41 415.90,199.41 416.30,199.41 416.70,199.41 417.10,199.41 417.50,199.41 417.90,199.41 418.30,199.41 418.70,199.41 419.10,199.42 419.50,199.42 419.90,199.42 420.30,199.42 420.70,199.42 421.10,199.42 421.50,199.42 421.90,199.43 422.30,199.43 422.70,199.43 423.10,199.43 423.50,199.43 423.90,199.44 424.30,199.44 424.70,199.44 425.10,199.44 425.50,199.45 425.90,199.45 426.30,199.45 426.70,199.46 427.10,199.46 427.50,199.46 427.90,199.47 428.30,199.47 428.70,199.48 429.10,199.49 429.50,199.49 429.90,199.50 430.30,199.50 430.70,199.51 431.10,199.52 431.50,199.53 431.90,199.54 432.30,199.55 432.70,199.56 433.10,199.57 433.50,199.58 433.90,199.59 434.30,199.60 434.70,199.62 435.10,199.63 435.50,199.65 435.90,199.67 436.30,199.69 436.70,199.71 437.10,199.73 437.50,199.75 437.90,199.78 438.30,199.80 438.70,199.83 439.10,199.86 439.50,199.89 439.90,199.92 440.30,199.96 440.70,200.00 441.10,200.04 441.50,200.09 441.90,200.13 442.30,200.18 442.70,200.24 443.10,200.29 443.50,200.36 443.90,200.42 444.30,200.49 444.70,200.57 445.10,200.65 445.50,200.73 445.90,200.82 446.30,200.92 446.70,201.02 447.10,201.13 447.50,201.25 447.90,201.37 448.30,201.50 448.70,201.64 449.10,201.79 449.50,201.95 449.90,202.12 450.30,202.30 450.70,202.49 451.10,202.69 451.50,202.91 451.90,203.13 452.30,203.37 452.70,203.63 453.10,203.90 453.50,204.18 453.90,204.48 454.30,204.80 454.70,205.13 455.10,205.48 455.50,205.85 455.90,206.24 456.30,206.65 456.70,207.08 457.10,207.53 457.50,208.00 457.90,208.49 458.30,209.00 458.70,209.54 459.10,210.09 459.50,210.67 459.90,211.27 460.30,211.89 460.70,212.53 461.10,213.19 461.50,213.87 461.90,214.57 462.30,215.29 462.70,216.03 463.10,216.78 463.50,217.55 463.90,218.33 464.30,219.13 464.70,219.93 465.10,220.75 465.50,221.57 465.90,222.40 466.30,223.23 466.70,224.06 467.10,224.89 467.50,225.72 467.90,226.55 468.30,227.37 468.70,228.18 469.10,228.98 469.50,229.78 469.90,230.56 470.30,231.32 470.70,232.07 471.10,232.81 471.50,233.52 471.90,234.22 472.30,234.90 472.70,235.56 473.10,236.20 473.50,236.82 473.90,237.41 474.30,237.99 474.70,238.54 475.10,239.07 475.50,239.58 475.90,240.07 476.30,240.53 476.70,240.98 477.10,241.41 477.50,241.81 477.90,242.20 478.30,242.57 478.70,242.92 479.10,243.25 479.50,243.56 479.90,243.86 480.30,244.14 480.70,244.41 481.10,244.66 481.50,244.90 481.90,245.12 482.30,245.34 482.70,245.54 483.10,245.73 483.50,245.90 483.90,246.07 484.30,246.23 484.70,246.38 485.10,246.52 485.50,246.65 485.90,246.77 486.30,246.89 486.70,246.99 487.10,247.10 487.50,247.19 487.90,247.28 488.30,247.37 488.70,247.44 489.10,247.52 489.50,247.59 489.90,247.65 490.30,247.71 490.70,247.77 491.10,247.82 491.50,247.87 491.90,247.92 492.30,247.96 492.70,248.01 493.10,248.04 493.50,248.08 493.90,248.11 494.30,248.15 494.70,248.17 495.10,248.20 495.50,248.23 495.90,248.25 496.30,248.28 496.70,248.30 497.10,248.32 497.50,248.33 497.90,248.35 498.30,248.37 498.70,248.38 499.10,248.40 499.50,248.41 499.90,248.42" fill="none" stroke="#ad0e3a" stroke-width="1.15"/>
<line x1="424.00" y1="203.83" x2="424.00" y2="208.75" stroke="#213f85" stroke-width="0.85"/>
<line x1="421.90" y1="203.83" x2="426.10" y2="203.83" stroke="#213f85" stroke-width="0.95"/>
<line x1="421.90" y1="208.75" x2="426.10" y2="208.75" stroke="#213f85" stroke-width="0.95"/>
<line x1="443.05" y1="193.99" x2="443.05" y2="210.72" stroke="#213f85" stroke-width="0.85"/>
<line x1="440.95" y1="193.99" x2="445.15" y2="193.99" stroke="#213f85" stroke-width="0.95"/>
<line x1="440.95" y1="210.72" x2="445.15" y2="210.72" stroke="#213f85" stroke-width="0.95"/>
<line x1="462.10" y1="207.27" x2="462.10" y2="211.70" stroke="#213f85" stroke-width="0.85"/>
<line x1="460.00" y1="207.27" x2="464.20" y2="207.27" stroke="#213f85" stroke-width="0.95"/>
<line x1="460.00" y1="211.70" x2="464.20" y2="211.70" stroke="#213f85" stroke-width="0.95"/>
<line x1="424.00" y1="197.92" x2="424.00" y2="201.37" stroke="#ad0e3a" stroke-width="0.85"/>
<line x1="421.90" y1="197.92" x2="426.10" y2="197.92" stroke="#ad0e3a" stroke-width="0.95"/>
<line x1="421.90" y1="201.37" x2="426.10" y2="201.37" stroke="#ad0e3a" stroke-width="0.95"/>
<line x1="443.05" y1="202.35" x2="443.05" y2="206.78" stroke="#ad0e3a" stroke-width="0.85"/>
<line x1="440.95" y1="202.35" x2="445.15" y2="202.35" stroke="#ad0e3a" stroke-width="0.95"/>
<line x1="440.95" y1="206.78" x2="445.15" y2="206.78" stroke="#ad0e3a" stroke-width="0.95"/>
<circle cx="424.00" cy="206.29" r="2.2" fill="#213f85"/>
<circle cx="443.05" cy="202.84" r="2.2" fill="#213f85"/>
<circle cx="462.10" cy="209.73" r="2.2" fill="#213f85"/>
<circle cx="481.15" cy="220.56" r="2.2" fill="#213f85"/>
<circle cx="500.20" cy="247.12" r="2.2" fill="#213f85"/>
<circle cx="424.00" cy="199.89" r="2.2" fill="#ad0e3a"/>
<circle cx="443.05" cy="204.81" r="2.2" fill="#ad0e3a"/>
<circle cx="462.10" cy="215.14" r="2.2" fill="#ad0e3a"/>
<circle cx="481.15" cy="247.12" r="2.2" fill="#ad0e3a"/>
<circle cx="500.20" cy="248.60" r="2.2" fill="#ad0e3a"/>
<text x="407.50" y="202.30" font-size="8" text-anchor="end" fill="#231f20" stroke="#231f20" stroke-width="0.18">100</text>
<text x="407.50" y="226.90" font-size="8" text-anchor="end" fill="#231f20" stroke="#231f20" stroke-width="0.18">50</text>
<text x="407.50" y="251.50" font-size="8" text-anchor="end" fill="#231f20" stroke="#231f20" stroke-width="0.18">0</text>
<text x="426.80" y="259.00" font-size="8.2" text-anchor="end" fill="#231f20" stroke="#231f20" stroke-width="0.18" transform="rotate(-45 426.80 259.00)">1 nM</text>
<text x="445.85" y="259.00" font-size="8.2" text-anchor="end" fill="#231f20" stroke="#231f20" stroke-width="0.18" transform="rotate(-45 445.85 259.00)">10 nM</text>
<text x="464.90" y="259.00" font-size="8.2" text-anchor="end" fill="#231f20" stroke="#231f20" stroke-width="0.18" transform="rotate(-45 464.90 259.00)">100 nM</text>
<text x="483.95" y="259.00" font-size="8.2" text-anchor="end" fill="#231f20" stroke="#231f20" stroke-width="0.18" transform="rotate(-45 483.95 259.00)">1 µM</text>
<text x="503.00" y="259.00" font-size="8.2" text-anchor="end" fill="#231f20" stroke="#231f20" stroke-width="0.18" transform="rotate(-45 503.00 259.00)">10 µM</text>
<text x="86.50" y="317.30" font-size="10" text-anchor="middle" fill="#231f20" stroke="#231f20" stroke-width="0.18">BIBG1724TF</text>
<rect x="58.00" y="354.22" width="10.4" height="69.08" fill="#ededf0" stroke="#cfcfd4" stroke-width="0.9"/>
<line x1="63.20" y1="341.22" x2="63.20" y2="368.58" stroke="#bdbdc2" stroke-width="0.8"/>
<line x1="61.00" y1="341.22" x2="65.40" y2="341.22" stroke="#bdbdc2" stroke-width="0.8"/>
<line x1="61.00" y1="368.58" x2="65.40" y2="368.58" stroke="#bdbdc2" stroke-width="0.8"/>
<rect x="73.40" y="419.88" width="10.4" height="3.42" fill="#ededf0" stroke="#cfcfd4" stroke-width="0.9"/>
<rect x="88.90" y="354.90" width="10.4" height="68.40" fill="#ededf0" stroke="#cfcfd4" stroke-width="0.9"/>
<line x1="94.10" y1="348.06" x2="94.10" y2="359.69" stroke="#bdbdc2" stroke-width="0.8"/>
<line x1="91.90" y1="348.06" x2="96.30" y2="348.06" stroke="#bdbdc2" stroke-width="0.8"/>
<line x1="91.90" y1="359.69" x2="96.30" y2="359.69" stroke="#bdbdc2" stroke-width="0.8"/>
<rect x="104.30" y="389.78" width="10.4" height="33.52" fill="#ededf0" stroke="#cfcfd4" stroke-width="0.9"/>
<line x1="109.50" y1="385.68" x2="109.50" y2="393.20" stroke="#bdbdc2" stroke-width="0.8"/>
<line x1="107.30" y1="385.68" x2="111.70" y2="385.68" stroke="#bdbdc2" stroke-width="0.8"/>
<line x1="107.30" y1="393.20" x2="111.70" y2="393.20" stroke="#bdbdc2" stroke-width="0.8"/>
<circle cx="63.30" cy="327.80" r="1.8" fill="none" stroke="#ad0e3a" stroke-width="1.0"/>
<circle cx="63.30" cy="343.00" r="1.8" fill="none" stroke="#ad0e3a" stroke-width="1.0"/>
<circle cx="63.30" cy="349.00" r="1.8" fill="none" stroke="#ad0e3a" stroke-width="1.0"/>
<circle cx="60.70" cy="355.80" r="1.8" fill="none" stroke="#ad0e3a" stroke-width="1.0"/>
<circle cx="65.60" cy="356.30" r="1.8" fill="none" stroke="#ad0e3a" stroke-width="1.0"/>
<circle cx="62.80" cy="357.20" r="1.8" fill="none" stroke="#ad0e3a" stroke-width="1.0"/>
<circle cx="65.00" cy="359.20" r="1.8" fill="none" stroke="#ad0e3a" stroke-width="1.0"/>
<circle cx="61.10" cy="372.00" r="1.8" fill="none" stroke="#ad0e3a" stroke-width="1.0"/>
<circle cx="65.60" cy="371.50" r="1.8" fill="none" stroke="#ad0e3a" stroke-width="1.0"/>
<circle cx="75.70" cy="417.90" r="1.8" fill="none" stroke="#ad0e3a" stroke-width="1.0"/>
<circle cx="80.50" cy="417.00" r="1.8" fill="none" stroke="#ad0e3a" stroke-width="1.0"/>
<circle cx="78.40" cy="420.40" r="1.8" fill="none" stroke="#ad0e3a" stroke-width="1.0"/>
<circle cx="75.10" cy="420.90" r="1.8" fill="none" stroke="#ad0e3a" stroke-width="1.0"/>
<circle cx="81.30" cy="419.60" r="1.8" fill="none" stroke="#ad0e3a" stroke-width="1.0"/>
<circle cx="92.30" cy="342.80" r="1.8" fill="none" stroke="#3b5fa0" stroke-width="1.0"/>
<circle cx="98.70" cy="346.20" r="1.8" fill="none" stroke="#3b5fa0" stroke-width="1.0"/>
<circle cx="96.80" cy="349.60" r="1.8" fill="none" stroke="#3b5fa0" stroke-width="1.0"/>
<circle cx="89.40" cy="351.30" r="1.8" fill="none" stroke="#3b5fa0" stroke-width="1.0"/>
<circle cx="92.30" cy="355.50" r="1.8" fill="none" stroke="#3b5fa0" stroke-width="1.0"/>
<circle cx="97.00" cy="358.80" r="1.8" fill="none" stroke="#3b5fa0" stroke-width="1.0"/>
<circle cx="91.10" cy="362.20" r="1.8" fill="none" stroke="#3b5fa0" stroke-width="1.0"/>
<circle cx="94.00" cy="363.90" r="1.8" fill="none" stroke="#3b5fa0" stroke-width="1.0"/>
<circle cx="97.30" cy="363.10" r="1.8" fill="none" stroke="#3b5fa0" stroke-width="1.0"/>
<circle cx="109.60" cy="380.00" r="1.8" fill="none" stroke="#3b5fa0" stroke-width="1.0"/>
<circle cx="107.10" cy="390.00" r="1.8" fill="none" stroke="#3b5fa0" stroke-width="1.0"/>
<circle cx="112.50" cy="388.00" r="1.8" fill="none" stroke="#3b5fa0" stroke-width="1.0"/>
<circle cx="111.70" cy="394.60" r="1.8" fill="none" stroke="#3b5fa0" stroke-width="1.0"/>
<circle cx="107.50" cy="396.80" r="1.8" fill="none" stroke="#3b5fa0" stroke-width="1.0"/>
<line x1="53.30" y1="322.80" x2="53.30" y2="423.90" stroke="#0d0d0d" stroke-width="1.35"/>
<line x1="50.10" y1="423.30" x2="119.70" y2="423.30" stroke="#0d0d0d" stroke-width="1.35"/>
<line x1="50.10" y1="389.10" x2="53.30" y2="389.10" stroke="#0d0d0d" stroke-width="1.2"/>
<line x1="50.10" y1="354.90" x2="53.30" y2="354.90" stroke="#0d0d0d" stroke-width="1.2"/>
<line x1="63.20" y1="423.30" x2="63.20" y2="426.50" stroke="#0d0d0d" stroke-width="1.2"/>
<line x1="78.60" y1="423.30" x2="78.60" y2="426.50" stroke="#0d0d0d" stroke-width="1.2"/>
<line x1="94.10" y1="423.30" x2="94.10" y2="426.50" stroke="#0d0d0d" stroke-width="1.2"/>
<line x1="109.50" y1="423.30" x2="109.50" y2="426.50" stroke="#0d0d0d" stroke-width="1.2"/>
<text x="46.60" y="357.90" font-size="8.5" text-anchor="end" fill="#231f20" stroke="#231f20" stroke-width="0.18">100</text>
<text x="46.60" y="392.10" font-size="8.5" text-anchor="end" fill="#231f20" stroke="#231f20" stroke-width="0.18">50</text>
<text x="46.60" y="426.30" font-size="8.5" text-anchor="end" fill="#231f20" stroke="#231f20" stroke-width="0.18">0</text>
<text x="25.70" y="402.30" font-size="11" fill="#231f20" stroke="#231f20" stroke-width="0.18" textLength="59.00" lengthAdjust="spacingAndGlyphs" transform="rotate(-90 25.70 402.30)">Cell viability (%)</text>
<text x="66.00" y="433.90" font-size="8.7" text-anchor="end" fill="#231f20" stroke="#231f20" stroke-width="0.18" transform="rotate(-45 66.00 433.90)">0 nM</text>
<text x="81.40" y="433.90" font-size="8.7" text-anchor="end" fill="#231f20" stroke="#231f20" stroke-width="0.18" transform="rotate(-45 81.40 433.90)">1 µM</text>
<text x="96.90" y="433.90" font-size="8.7" text-anchor="end" fill="#231f20" stroke="#231f20" stroke-width="0.18" transform="rotate(-45 96.90 433.90)">0 nM</text>
<text x="112.30" y="433.90" font-size="8.7" text-anchor="end" fill="#231f20" stroke="#231f20" stroke-width="0.18" transform="rotate(-45 112.30 433.90)">1 µM</text>
<path d="M78.60,336.10 V334.30 Q78.60,333.50 79.40,333.50 H108.70 Q109.50,333.50 109.50,334.30 V336.10" fill="none" stroke="#111" stroke-width="1.0"/>
<text x="94.05" y="333.90" font-size="7.5" text-anchor="middle" fill="#231f20" stroke="#231f20" stroke-width="0.18">*</text>
<text x="184.90" y="317.30" font-size="10" text-anchor="middle" fill="#231f20" stroke="#231f20" stroke-width="0.18">BIBF1496XX</text>
<rect x="156.40" y="354.90" width="10.4" height="68.40" fill="#ededf0" stroke="#cfcfd4" stroke-width="0.9"/>
<line x1="161.60" y1="341.22" x2="161.60" y2="368.58" stroke="#bdbdc2" stroke-width="0.8"/>
<line x1="159.40" y1="341.22" x2="163.80" y2="341.22" stroke="#bdbdc2" stroke-width="0.8"/>
<line x1="159.40" y1="368.58" x2="163.80" y2="368.58" stroke="#bdbdc2" stroke-width="0.8"/>
<rect x="171.80" y="416.46" width="10.4" height="6.84" fill="#ededf0" stroke="#cfcfd4" stroke-width="0.9"/>
<rect x="187.30" y="354.90" width="10.4" height="68.40" fill="#ededf0" stroke="#cfcfd4" stroke-width="0.9"/>
<line x1="192.50" y1="349.43" x2="192.50" y2="360.37" stroke="#bdbdc2" stroke-width="0.8"/>
<line x1="190.30" y1="349.43" x2="194.70" y2="349.43" stroke="#bdbdc2" stroke-width="0.8"/>
<line x1="190.30" y1="360.37" x2="194.70" y2="360.37" stroke="#bdbdc2" stroke-width="0.8"/>
<rect x="202.70" y="389.10" width="10.4" height="34.20" fill="#ededf0" stroke="#cfcfd4" stroke-width="0.9"/>
<line x1="207.90" y1="385.68" x2="207.90" y2="391.84" stroke="#bdbdc2" stroke-width="0.8"/>
<line x1="205.70" y1="385.68" x2="210.10" y2="385.68" stroke="#bdbdc2" stroke-width="0.8"/>
<line x1="205.70" y1="391.84" x2="210.10" y2="391.84" stroke="#bdbdc2" stroke-width="0.8"/>
<circle cx="161.20" cy="327.50" r="1.8" fill="none" stroke="#ad0e3a" stroke-width="1.0"/>
<circle cx="161.20" cy="342.80" r="1.8" fill="none" stroke="#ad0e3a" stroke-width="1.0"/>
<circle cx="161.80" cy="349.70" r="1.8" fill="none" stroke="#ad0e3a" stroke-width="1.0"/>
<circle cx="157.50" cy="356.30" r="1.8" fill="none" stroke="#ad0e3a" stroke-width="1.0"/>
<circle cx="163.80" cy="353.50" r="1.8" fill="none" stroke="#ad0e3a" stroke-width="1.0"/>
<circle cx="159.80" cy="358.60" r="1.8" fill="none" stroke="#ad0e3a" stroke-width="1.0"/>
<circle cx="164.10" cy="361.50" r="1.8" fill="none" stroke="#ad0e3a" stroke-width="1.0"/>
<circle cx="158.90" cy="372.20" r="1.8" fill="none" stroke="#ad0e3a" stroke-width="1.0"/>
<circle cx="163.80" cy="371.30" r="1.8" fill="none" stroke="#ad0e3a" stroke-width="1.0"/>
<circle cx="174.20" cy="414.00" r="1.8" fill="none" stroke="#ad0e3a" stroke-width="1.0"/>
<circle cx="177.70" cy="413.50" r="1.8" fill="none" stroke="#ad0e3a" stroke-width="1.0"/>
<circle cx="175.40" cy="417.00" r="1.8" fill="none" stroke="#ad0e3a" stroke-width="1.0"/>
<circle cx="179.10" cy="416.30" r="1.8" fill="none" stroke="#ad0e3a" stroke-width="1.0"/>
<circle cx="177.10" cy="418.40" r="1.8" fill="none" stroke="#ad0e3a" stroke-width="1.0"/>
<circle cx="191.50" cy="343.40" r="1.8" fill="none" stroke="#3b5fa0" stroke-width="1.0"/>
<circle cx="194.40" cy="345.70" r="1.8" fill="none" stroke="#3b5fa0" stroke-width="1.0"/>
<circle cx="189.80" cy="350.00" r="1.8" fill="none" stroke="#3b5fa0" stroke-width="1.0"/>
<circle cx="195.60" cy="354.90" r="1.8" fill="none" stroke="#3b5fa0" stroke-width="1.0"/>
<circle cx="187.80" cy="354.90" r="1.8" fill="none" stroke="#3b5fa0" stroke-width="1.0"/>
<circle cx="191.50" cy="357.80" r="1.8" fill="none" stroke="#3b5fa0" stroke-width="1.0"/>
<circle cx="189.80" cy="362.10" r="1.8" fill="none" stroke="#3b5fa0" stroke-width="1.0"/>
<circle cx="194.40" cy="362.10" r="1.8" fill="none" stroke="#3b5fa0" stroke-width="1.0"/>
<circle cx="192.70" cy="359.80" r="1.8" fill="none" stroke="#3b5fa0" stroke-width="1.0"/>
<circle cx="207.70" cy="382.30" r="1.8" fill="none" stroke="#3b5fa0" stroke-width="1.0"/>
<circle cx="203.60" cy="387.50" r="1.8" fill="none" stroke="#3b5fa0" stroke-width="1.0"/>
<circle cx="210.60" cy="388.10" r="1.8" fill="none" stroke="#3b5fa0" stroke-width="1.0"/>
<circle cx="205.10" cy="392.40" r="1.8" fill="none" stroke="#3b5fa0" stroke-width="1.0"/>
<circle cx="210.00" cy="392.40" r="1.8" fill="none" stroke="#3b5fa0" stroke-width="1.0"/>
<line x1="151.70" y1="322.80" x2="151.70" y2="423.90" stroke="#0d0d0d" stroke-width="1.35"/>
<line x1="148.50" y1="423.30" x2="218.10" y2="423.30" stroke="#0d0d0d" stroke-width="1.35"/>
<line x1="148.50" y1="389.10" x2="151.70" y2="389.10" stroke="#0d0d0d" stroke-width="1.2"/>
<line x1="148.50" y1="354.90" x2="151.70" y2="354.90" stroke="#0d0d0d" stroke-width="1.2"/>
<line x1="161.60" y1="423.30" x2="161.60" y2="426.50" stroke="#0d0d0d" stroke-width="1.2"/>
<line x1="177.00" y1="423.30" x2="177.00" y2="426.50" stroke="#0d0d0d" stroke-width="1.2"/>
<line x1="192.50" y1="423.30" x2="192.50" y2="426.50" stroke="#0d0d0d" stroke-width="1.2"/>
<line x1="207.90" y1="423.30" x2="207.90" y2="426.50" stroke="#0d0d0d" stroke-width="1.2"/>
<text x="145.00" y="357.90" font-size="8.5" text-anchor="end" fill="#231f20" stroke="#231f20" stroke-width="0.18">100</text>
<text x="145.00" y="392.10" font-size="8.5" text-anchor="end" fill="#231f20" stroke="#231f20" stroke-width="0.18">50</text>
<text x="145.00" y="426.30" font-size="8.5" text-anchor="end" fill="#231f20" stroke="#231f20" stroke-width="0.18">0</text>
<text x="164.40" y="433.90" font-size="8.7" text-anchor="end" fill="#231f20" stroke="#231f20" stroke-width="0.18" transform="rotate(-45 164.40 433.90)">0 nM</text>
<text x="179.80" y="433.90" font-size="8.7" text-anchor="end" fill="#231f20" stroke="#231f20" stroke-width="0.18" transform="rotate(-45 179.80 433.90)">1 µM</text>
<text x="195.30" y="433.90" font-size="8.7" text-anchor="end" fill="#231f20" stroke="#231f20" stroke-width="0.18" transform="rotate(-45 195.30 433.90)">0 nM</text>
<text x="210.70" y="433.90" font-size="8.7" text-anchor="end" fill="#231f20" stroke="#231f20" stroke-width="0.18" transform="rotate(-45 210.70 433.90)">1 µM</text>
<path d="M177.00,336.10 V334.30 Q177.00,333.50 177.80,333.50 H207.10 Q207.90,333.50 207.90,334.30 V336.10" fill="none" stroke="#111" stroke-width="1.0"/>
<text x="192.45" y="333.90" font-size="7.5" text-anchor="middle" fill="#231f20" stroke="#231f20" stroke-width="0.18">*</text>
<text x="282.80" y="317.30" font-size="10" text-anchor="middle" fill="#231f20" stroke="#231f20" stroke-width="0.18">BIBE3315BS</text>
<rect x="254.30" y="354.90" width="10.4" height="68.40" fill="#ededf0" stroke="#cfcfd4" stroke-width="0.9"/>
<line x1="259.50" y1="348.06" x2="259.50" y2="361.74" stroke="#bdbdc2" stroke-width="0.8"/>
<line x1="257.30" y1="348.06" x2="261.70" y2="348.06" stroke="#bdbdc2" stroke-width="0.8"/>
<line x1="257.30" y1="361.74" x2="261.70" y2="361.74" stroke="#bdbdc2" stroke-width="0.8"/>
<rect x="269.70" y="421.25" width="10.4" height="2.05" fill="#ededf0" stroke="#cfcfd4" stroke-width="0.9"/>
<rect x="285.20" y="354.22" width="10.4" height="69.08" fill="#ededf0" stroke="#cfcfd4" stroke-width="0.9"/>
<line x1="290.40" y1="345.32" x2="290.40" y2="363.11" stroke="#bdbdc2" stroke-width="0.8"/>
<line x1="288.20" y1="345.32" x2="292.60" y2="345.32" stroke="#bdbdc2" stroke-width="0.8"/>
<line x1="288.20" y1="363.11" x2="292.60" y2="363.11" stroke="#bdbdc2" stroke-width="0.8"/>
<rect x="300.60" y="387.73" width="10.4" height="35.57" fill="#ededf0" stroke="#cfcfd4" stroke-width="0.9"/>
<line x1="305.80" y1="383.63" x2="305.80" y2="392.52" stroke="#bdbdc2" stroke-width="0.8"/>
<line x1="303.60" y1="383.63" x2="308.00" y2="383.63" stroke="#bdbdc2" stroke-width="0.8"/>
<line x1="303.60" y1="392.52" x2="308.00" y2="392.52" stroke="#bdbdc2" stroke-width="0.8"/>
<circle cx="259.10" cy="344.80" r="1.8" fill="none" stroke="#ad0e3a" stroke-width="1.0"/>
<circle cx="256.00" cy="350.60" r="1.8" fill="none" stroke="#ad0e3a" stroke-width="1.0"/>
<circle cx="262.60" cy="350.00" r="1.8" fill="none" stroke="#ad0e3a" stroke-width="1.0"/>
<circle cx="258.80" cy="352.90" r="1.8" fill="none" stroke="#ad0e3a" stroke-width="1.0"/>
<circle cx="255.40" cy="355.80" r="1.8" fill="none" stroke="#ad0e3a" stroke-width="1.0"/>
<circle cx="262.30" cy="356.90" r="1.8" fill="none" stroke="#ad0e3a" stroke-width="1.0"/>
<circle cx="258.80" cy="359.20" r="1.8" fill="none" stroke="#ad0e3a" stroke-width="1.0"/>
<circle cx="259.40" cy="363.00" r="1.8" fill="none" stroke="#ad0e3a" stroke-width="1.0"/>
<circle cx="259.40" cy="368.70" r="1.8" fill="none" stroke="#ad0e3a" stroke-width="1.0"/>
<circle cx="272.00" cy="421.00" r="1.8" fill="none" stroke="#ad0e3a" stroke-width="1.0"/>
<circle cx="275.00" cy="420.80" r="1.8" fill="none" stroke="#ad0e3a" stroke-width="1.0"/>
<circle cx="278.00" cy="421.00" r="1.8" fill="none" stroke="#ad0e3a" stroke-width="1.0"/>
<circle cx="273.50" cy="422.00" r="1.8" fill="none" stroke="#ad0e3a" stroke-width="1.0"/>
<circle cx="276.50" cy="422.00" r="1.8" fill="none" stroke="#ad0e3a" stroke-width="1.0"/>
<circle cx="290.00" cy="332.40" r="1.8" fill="none" stroke="#3b5fa0" stroke-width="1.0"/>
<circle cx="287.70" cy="350.60" r="1.8" fill="none" stroke="#3b5fa0" stroke-width="1.0"/>
<circle cx="292.00" cy="351.40" r="1.8" fill="none" stroke="#3b5fa0" stroke-width="1.0"/>
<circle cx="286.20" cy="354.00" r="1.8" fill="none" stroke="#3b5fa0" stroke-width="1.0"/>
<circle cx="292.90" cy="354.00" r="1.8" fill="none" stroke="#3b5fa0" stroke-width="1.0"/>
<circle cx="289.10" cy="359.20" r="1.8" fill="none" stroke="#3b5fa0" stroke-width="1.0"/>
<circle cx="292.00" cy="359.80" r="1.8" fill="none" stroke="#3b5fa0" stroke-width="1.0"/>
<circle cx="287.70" cy="366.40" r="1.8" fill="none" stroke="#3b5fa0" stroke-width="1.0"/>
<circle cx="292.00" cy="365.90" r="1.8" fill="none" stroke="#3b5fa0" stroke-width="1.0"/>
<circle cx="302.10" cy="381.70" r="1.8" fill="none" stroke="#3b5fa0" stroke-width="1.0"/>
<circle cx="307.30" cy="383.20" r="1.8" fill="none" stroke="#3b5fa0" stroke-width="1.0"/>
<circle cx="303.60" cy="387.50" r="1.8" fill="none" stroke="#3b5fa0" stroke-width="1.0"/>
<circle cx="307.90" cy="391.50" r="1.8" fill="none" stroke="#3b5fa0" stroke-width="1.0"/>
<circle cx="305.00" cy="398.70" r="1.8" fill="none" stroke="#3b5fa0" stroke-width="1.0"/>
<line x1="249.60" y1="322.80" x2="249.60" y2="423.90" stroke="#0d0d0d" stroke-width="1.35"/>
<line x1="246.40" y1="423.30" x2="316.00" y2="423.30" stroke="#0d0d0d" stroke-width="1.35"/>
<line x1="246.40" y1="389.10" x2="249.60" y2="389.10" stroke="#0d0d0d" stroke-width="1.2"/>
<line x1="246.40" y1="354.90" x2="249.60" y2="354.90" stroke="#0d0d0d" stroke-width="1.2"/>
<line x1="259.50" y1="423.30" x2="259.50" y2="426.50" stroke="#0d0d0d" stroke-width="1.2"/>
<line x1="274.90" y1="423.30" x2="274.90" y2="426.50" stroke="#0d0d0d" stroke-width="1.2"/>
<line x1="290.40" y1="423.30" x2="290.40" y2="426.50" stroke="#0d0d0d" stroke-width="1.2"/>
<line x1="305.80" y1="423.30" x2="305.80" y2="426.50" stroke="#0d0d0d" stroke-width="1.2"/>
<text x="242.90" y="357.90" font-size="8.5" text-anchor="end" fill="#231f20" stroke="#231f20" stroke-width="0.18">100</text>
<text x="242.90" y="392.10" font-size="8.5" text-anchor="end" fill="#231f20" stroke="#231f20" stroke-width="0.18">50</text>
<text x="242.90" y="426.30" font-size="8.5" text-anchor="end" fill="#231f20" stroke="#231f20" stroke-width="0.18">0</text>
<text x="262.30" y="433.90" font-size="8.7" text-anchor="end" fill="#231f20" stroke="#231f20" stroke-width="0.18" transform="rotate(-45 262.30 433.90)">0 nM</text>
<text x="277.70" y="433.90" font-size="8.7" text-anchor="end" fill="#231f20" stroke="#231f20" stroke-width="0.18" transform="rotate(-45 277.70 433.90)">1 µM</text>
<text x="293.20" y="433.90" font-size="8.7" text-anchor="end" fill="#231f20" stroke="#231f20" stroke-width="0.18" transform="rotate(-45 293.20 433.90)">0 nM</text>
<text x="308.60" y="433.90" font-size="8.7" text-anchor="end" fill="#231f20" stroke="#231f20" stroke-width="0.18" transform="rotate(-45 308.60 433.90)">1 µM</text>
<path d="M274.90,331.10 V329.30 Q274.90,328.50 275.70,328.50 H305.00 Q305.80,328.50 305.80,329.30 V331.10" fill="none" stroke="#111" stroke-width="1.0"/>
<text x="290.35" y="328.90" font-size="7.5" text-anchor="middle" fill="#231f20" stroke="#231f20" stroke-width="0.18">*</text>
<text x="381.20" y="317.30" font-size="10" text-anchor="middle" fill="#231f20" stroke="#231f20" stroke-width="0.18">BIBE3316BS</text>
<rect x="352.30" y="354.90" width="10.4" height="68.40" fill="#ededf0" stroke="#cfcfd4" stroke-width="0.9"/>
<line x1="357.50" y1="348.06" x2="357.50" y2="361.74" stroke="#bdbdc2" stroke-width="0.8"/>
<line x1="355.30" y1="348.06" x2="359.70" y2="348.06" stroke="#bdbdc2" stroke-width="0.8"/>
<line x1="355.30" y1="361.74" x2="359.70" y2="361.74" stroke="#bdbdc2" stroke-width="0.8"/>
<rect x="367.70" y="420.56" width="10.4" height="2.74" fill="#ededf0" stroke="#cfcfd4" stroke-width="0.9"/>
<rect x="383.20" y="354.22" width="10.4" height="69.08" fill="#ededf0" stroke="#cfcfd4" stroke-width="0.9"/>
<line x1="388.40" y1="344.64" x2="388.40" y2="363.79" stroke="#bdbdc2" stroke-width="0.8"/>
<line x1="386.20" y1="344.64" x2="390.60" y2="344.64" stroke="#bdbdc2" stroke-width="0.8"/>
<line x1="386.20" y1="363.79" x2="390.60" y2="363.79" stroke="#bdbdc2" stroke-width="0.8"/>
<rect x="398.60" y="389.10" width="10.4" height="34.20" fill="#ededf0" stroke="#cfcfd4" stroke-width="0.9"/>
<line x1="403.80" y1="385.68" x2="403.80" y2="391.84" stroke="#bdbdc2" stroke-width="0.8"/>
<line x1="401.60" y1="385.68" x2="406.00" y2="385.68" stroke="#bdbdc2" stroke-width="0.8"/>
<line x1="401.60" y1="391.84" x2="406.00" y2="391.84" stroke="#bdbdc2" stroke-width="0.8"/>
<circle cx="357.50" cy="344.50" r="1.8" fill="none" stroke="#ad0e3a" stroke-width="1.0"/>
<circle cx="353.20" cy="351.20" r="1.8" fill="none" stroke="#ad0e3a" stroke-width="1.0"/>
<circle cx="360.80" cy="349.60" r="1.8" fill="none" stroke="#ad0e3a" stroke-width="1.0"/>
<circle cx="355.70" cy="353.80" r="1.8" fill="none" stroke="#ad0e3a" stroke-width="1.0"/>
<circle cx="358.90" cy="353.10" r="1.8" fill="none" stroke="#ad0e3a" stroke-width="1.0"/>
<circle cx="354.30" cy="356.50" r="1.8" fill="none" stroke="#ad0e3a" stroke-width="1.0"/>
<circle cx="360.80" cy="356.50" r="1.8" fill="none" stroke="#ad0e3a" stroke-width="1.0"/>
<circle cx="357.50" cy="361.20" r="1.8" fill="none" stroke="#ad0e3a" stroke-width="1.0"/>
<circle cx="357.50" cy="368.80" r="1.8" fill="none" stroke="#ad0e3a" stroke-width="1.0"/>
<circle cx="369.50" cy="420.50" r="1.8" fill="none" stroke="#ad0e3a" stroke-width="1.0"/>
<circle cx="372.50" cy="420.00" r="1.8" fill="none" stroke="#ad0e3a" stroke-width="1.0"/>
<circle cx="375.50" cy="420.30" r="1.8" fill="none" stroke="#ad0e3a" stroke-width="1.0"/>
<circle cx="371.00" cy="421.50" r="1.8" fill="none" stroke="#ad0e3a" stroke-width="1.0"/>
<circle cx="374.00" cy="421.50" r="1.8" fill="none" stroke="#ad0e3a" stroke-width="1.0"/>
<circle cx="388.50" cy="331.80" r="1.8" fill="none" stroke="#3b5fa0" stroke-width="1.0"/>
<circle cx="388.50" cy="349.60" r="1.8" fill="none" stroke="#3b5fa0" stroke-width="1.0"/>
<circle cx="385.00" cy="351.50" r="1.8" fill="none" stroke="#3b5fa0" stroke-width="1.0"/>
<circle cx="391.20" cy="353.10" r="1.8" fill="none" stroke="#3b5fa0" stroke-width="1.0"/>
<circle cx="386.20" cy="354.70" r="1.8" fill="none" stroke="#3b5fa0" stroke-width="1.0"/>
<circle cx="388.50" cy="358.40" r="1.8" fill="none" stroke="#3b5fa0" stroke-width="1.0"/>
<circle cx="385.00" cy="358.80" r="1.8" fill="none" stroke="#3b5fa0" stroke-width="1.0"/>
<circle cx="390.80" cy="358.80" r="1.8" fill="none" stroke="#3b5fa0" stroke-width="1.0"/>
<circle cx="386.20" cy="366.20" r="1.8" fill="none" stroke="#3b5fa0" stroke-width="1.0"/>
<circle cx="390.80" cy="365.30" r="1.8" fill="none" stroke="#3b5fa0" stroke-width="1.0"/>
<circle cx="400.00" cy="384.90" r="1.8" fill="none" stroke="#3b5fa0" stroke-width="1.0"/>
<circle cx="406.90" cy="382.60" r="1.8" fill="none" stroke="#3b5fa0" stroke-width="1.0"/>
<circle cx="401.80" cy="387.20" r="1.8" fill="none" stroke="#3b5fa0" stroke-width="1.0"/>
<circle cx="405.80" cy="388.40" r="1.8" fill="none" stroke="#3b5fa0" stroke-width="1.0"/>
<circle cx="404.20" cy="391.20" r="1.8" fill="none" stroke="#3b5fa0" stroke-width="1.0"/>
<circle cx="400.50" cy="388.80" r="1.8" fill="none" stroke="#3b5fa0" stroke-width="1.0"/>
<line x1="347.60" y1="322.80" x2="347.60" y2="423.90" stroke="#0d0d0d" stroke-width="1.35"/>
<line x1="344.40" y1="423.30" x2="414.00" y2="423.30" stroke="#0d0d0d" stroke-width="1.35"/>
<line x1="344.40" y1="389.10" x2="347.60" y2="389.10" stroke="#0d0d0d" stroke-width="1.2"/>
<line x1="344.40" y1="354.90" x2="347.60" y2="354.90" stroke="#0d0d0d" stroke-width="1.2"/>
<line x1="357.50" y1="423.30" x2="357.50" y2="426.50" stroke="#0d0d0d" stroke-width="1.2"/>
<line x1="372.90" y1="423.30" x2="372.90" y2="426.50" stroke="#0d0d0d" stroke-width="1.2"/>
<line x1="388.40" y1="423.30" x2="388.40" y2="426.50" stroke="#0d0d0d" stroke-width="1.2"/>
<line x1="403.80" y1="423.30" x2="403.80" y2="426.50" stroke="#0d0d0d" stroke-width="1.2"/>
<text x="340.90" y="357.90" font-size="8.5" text-anchor="end" fill="#231f20" stroke="#231f20" stroke-width="0.18">100</text>
<text x="340.90" y="392.10" font-size="8.5" text-anchor="end" fill="#231f20" stroke="#231f20" stroke-width="0.18">50</text>
<text x="340.90" y="426.30" font-size="8.5" text-anchor="end" fill="#231f20" stroke="#231f20" stroke-width="0.18">0</text>
<text x="360.30" y="433.90" font-size="8.7" text-anchor="end" fill="#231f20" stroke="#231f20" stroke-width="0.18" transform="rotate(-45 360.30 433.90)">0 nM</text>
<text x="375.70" y="433.90" font-size="8.7" text-anchor="end" fill="#231f20" stroke="#231f20" stroke-width="0.18" transform="rotate(-45 375.70 433.90)">1 µM</text>
<text x="391.20" y="433.90" font-size="8.7" text-anchor="end" fill="#231f20" stroke="#231f20" stroke-width="0.18" transform="rotate(-45 391.20 433.90)">0 nM</text>
<text x="406.60" y="433.90" font-size="8.7" text-anchor="end" fill="#231f20" stroke="#231f20" stroke-width="0.18" transform="rotate(-45 406.60 433.90)">1 µM</text>
<path d="M372.90,330.10 V328.30 Q372.90,327.50 373.70,327.50 H403.00 Q403.80,327.50 403.80,328.30 V330.10" fill="none" stroke="#111" stroke-width="1.0"/>
<text x="388.35" y="327.90" font-size="7.5" text-anchor="middle" fill="#231f20" stroke="#231f20" stroke-width="0.18">*</text>
<circle cx="419.20" cy="324.20" r="1.8" fill="none" stroke="#ad0e3a" stroke-width="1.0"/>
<text x="423.80" y="327.10" font-size="8.6" fill="#231f20" stroke="#231f20" stroke-width="0.18" textLength="24.70" lengthAdjust="spacingAndGlyphs">D816V</text>
<circle cx="419.20" cy="336.20" r="1.8" fill="none" stroke="#3b5fa0" stroke-width="1.0"/>
<text x="423.80" y="339.10" font-size="8.6" fill="#231f20" stroke="#231f20" stroke-width="0.18" textLength="27.70" lengthAdjust="spacingAndGlyphs">Control</text>
<rect x="17.30" y="491.1" width="102.70" height="143.0" rx="1" fill="none" stroke="#262626" stroke-width="1.5"/>
<text x="68.65" y="485.20" font-size="10.6" text-anchor="middle" fill="#231f20" stroke="#231f20" stroke-width="0.18">Nintedanib</text>
<rect x="129.80" y="491.1" width="88.40" height="143.0" rx="1" fill="none" stroke="#262626" stroke-width="1.5"/>
<text x="174.00" y="485.20" font-size="10.1" text-anchor="middle" fill="#231f20" stroke="#231f20" stroke-width="0.18">BIBG1724TF</text>
<rect x="228.00" y="491.1" width="88.50" height="143.0" rx="1" fill="none" stroke="#262626" stroke-width="1.5"/>
<text x="272.25" y="485.20" font-size="10.1" text-anchor="middle" fill="#231f20" stroke="#231f20" stroke-width="0.18">BIBF1496XX</text>
<rect x="326.50" y="491.1" width="87.50" height="143.0" rx="1" fill="none" stroke="#262626" stroke-width="1.5"/>
<text x="370.25" y="485.20" font-size="10.1" text-anchor="middle" fill="#231f20" stroke="#231f20" stroke-width="0.18">BIBE3315BS</text>
<rect x="424.60" y="491.1" width="87.60" height="143.0" rx="1" fill="none" stroke="#262626" stroke-width="1.5"/>
<text x="468.40" y="485.20" font-size="10.1" text-anchor="middle" fill="#231f20" stroke="#231f20" stroke-width="0.18">BIBE3316BS</text>
<circle cx="20.30" cy="646.00" r="3.0" fill="#b0163e"/>
<text x="26.90" y="648.90" font-size="8.3" fill="#231f20" stroke="#231f20" stroke-width="0.18" textLength="27.20" lengthAdjust="spacingAndGlyphs">Lys 593</text>
<circle cx="75.30" cy="646.00" r="3.0" fill="#d4198c"/>
<text x="81.90" y="648.90" font-size="8.3" fill="#231f20" stroke="#231f20" stroke-width="0.18" textLength="26.60" lengthAdjust="spacingAndGlyphs">Lys 623</text>
<circle cx="130.50" cy="646.00" r="3.0" fill="#2f6a4e"/>
<text x="137.10" y="648.90" font-size="8.3" fill="#231f20" stroke="#231f20" stroke-width="0.18" textLength="28.80" lengthAdjust="spacingAndGlyphs">Gly 676</text>
<circle cx="20.30" cy="658.00" r="3.0" fill="#6db23f"/>
<text x="26.90" y="660.90" font-size="8.3" fill="#231f20" stroke="#231f20" stroke-width="0.18" textLength="26.60" lengthAdjust="spacingAndGlyphs">Val 603</text>
<circle cx="75.30" cy="658.00" r="3.0" fill="#e08a1f"/>
<text x="81.90" y="660.90" font-size="8.3" fill="#231f20" stroke="#231f20" stroke-width="0.18" textLength="27.60" lengthAdjust="spacingAndGlyphs">Glu 671</text>
<circle cx="130.50" cy="658.00" r="3.0" fill="#6fb3e6"/>
<text x="137.10" y="660.90" font-size="8.3" fill="#231f20" stroke="#231f20" stroke-width="0.18" textLength="29.30" lengthAdjust="spacingAndGlyphs">Phe 811</text>
<circle cx="20.30" cy="669.80" r="3.0" fill="#264a8a"/>
<text x="26.90" y="672.70" font-size="8.3" fill="#231f20" stroke="#231f20" stroke-width="0.18" textLength="28.70" lengthAdjust="spacingAndGlyphs">Glu 605</text>
<circle cx="75.30" cy="669.80" r="3.0" fill="#c9c9cb"/>
<text x="81.90" y="672.70" font-size="8.3" fill="#231f20" stroke="#231f20" stroke-width="0.18" textLength="28.30" lengthAdjust="spacingAndGlyphs">Cys 673</text>
<line x1="80.20" y1="544.60" x2="88.10" y2="548.70" stroke="#2e2e2e" stroke-width="0.95" stroke-linecap="round"/>
<line x1="88.10" y1="548.70" x2="96.20" y2="544.40" stroke="#2e2e2e" stroke-width="0.95" stroke-linecap="round"/>
<line x1="96.20" y1="544.40" x2="104.20" y2="549.00" stroke="#2e2e2e" stroke-width="0.95" stroke-linecap="round"/>
<line x1="96.84" y1="546.44" x2="102.12" y2="549.48" stroke="#2e2e2e" stroke-width="0.75" stroke-linecap="round"/>
<line x1="104.20" y1="549.00" x2="104.20" y2="558.20" stroke="#2e2e2e" stroke-width="0.95" stroke-linecap="round"/>
<line x1="104.20" y1="558.20" x2="96.20" y2="562.80" stroke="#2e2e2e" stroke-width="0.95" stroke-linecap="round"/>
<line x1="102.12" y1="557.72" x2="96.84" y2="560.76" stroke="#2e2e2e" stroke-width="0.75" stroke-linecap="round"/>
<line x1="96.20" y1="562.80" x2="88.10" y2="557.90" stroke="#2e2e2e" stroke-width="0.95" stroke-linecap="round"/>
<line x1="88.10" y1="557.90" x2="88.10" y2="548.70" stroke="#2e2e2e" stroke-width="0.95" stroke-linecap="round"/>
<line x1="89.55" y1="556.34" x2="89.55" y2="550.26" stroke="#2e2e2e" stroke-width="0.75" stroke-linecap="round"/>
<line x1="71.30" y1="548.70" x2="71.90" y2="558.50" stroke="#2e2e2e" stroke-width="0.95" stroke-linecap="round"/>
<polygon points="71.84,555.84 82.98,561.73 82.98,574.27 71.84,580.16 61.48,574.27 61.48,561.73" fill="none" stroke="#d9ebcf" stroke-width="0.9" stroke-linejoin="round"/>
<line x1="71.90" y1="558.50" x2="80.60" y2="563.10" stroke="#2e2e2e" stroke-width="0.95" stroke-linecap="round"/>
<line x1="80.60" y1="563.10" x2="80.60" y2="572.90" stroke="#2e2e2e" stroke-width="0.95" stroke-linecap="round"/>
<line x1="79.15" y1="564.77" x2="79.15" y2="571.23" stroke="#2e2e2e" stroke-width="0.75" stroke-linecap="round"/>
<line x1="80.60" y1="572.90" x2="71.90" y2="577.50" stroke="#2e2e2e" stroke-width="0.95" stroke-linecap="round"/>
<line x1="71.90" y1="577.50" x2="63.80" y2="572.90" stroke="#2e2e2e" stroke-width="0.95" stroke-linecap="round"/>
<line x1="71.24" y1="575.46" x2="65.89" y2="572.42" stroke="#2e2e2e" stroke-width="0.75" stroke-linecap="round"/>
<line x1="63.80" y1="572.90" x2="63.80" y2="563.10" stroke="#2e2e2e" stroke-width="0.95" stroke-linecap="round"/>
<line x1="63.80" y1="563.10" x2="71.90" y2="558.50" stroke="#2e2e2e" stroke-width="0.95" stroke-linecap="round"/>
<line x1="65.89" y1="563.58" x2="71.24" y2="560.54" stroke="#2e2e2e" stroke-width="0.75" stroke-linecap="round"/>
<polygon points="80.94,519.84 90.16,510.63 101.16,512.42 104.88,524.71 96.94,533.92 84.52,532.77" fill="none" stroke="#d9ebcf" stroke-width="0.9" stroke-linejoin="round"/>
<line x1="83.60" y1="520.40" x2="90.80" y2="513.20" stroke="#2e2e2e" stroke-width="0.95" stroke-linecap="round"/>
<line x1="85.85" y1="520.20" x2="90.60" y2="515.45" stroke="#2e2e2e" stroke-width="0.75" stroke-linecap="round"/>
<line x1="90.80" y1="513.20" x2="99.40" y2="514.60" stroke="#2e2e2e" stroke-width="0.95" stroke-linecap="round"/>
<line x1="99.40" y1="514.60" x2="102.30" y2="524.20" stroke="#2e2e2e" stroke-width="0.95" stroke-linecap="round"/>
<line x1="98.50" y1="516.65" x2="100.42" y2="522.99" stroke="#2e2e2e" stroke-width="0.75" stroke-linecap="round"/>
<line x1="102.30" y1="524.20" x2="96.10" y2="531.40" stroke="#2e2e2e" stroke-width="0.95" stroke-linecap="round"/>
<line x1="96.10" y1="531.40" x2="86.40" y2="530.50" stroke="#2e2e2e" stroke-width="0.95" stroke-linecap="round"/>
<line x1="94.58" y1="529.80" x2="88.18" y2="529.21" stroke="#2e2e2e" stroke-width="0.75" stroke-linecap="round"/>
<line x1="86.40" y1="530.50" x2="83.60" y2="520.40" stroke="#2e2e2e" stroke-width="0.95" stroke-linecap="round"/>
<line x1="99.40" y1="514.60" x2="105.40" y2="508.60" stroke="#2e2e2e" stroke-width="0.95" stroke-linecap="round"/>
<line x1="105.40" y1="508.60" x2="101.90" y2="499.40" stroke="#2e2e2e" stroke-width="0.95" stroke-linecap="round"/>
<line x1="101.90" y1="499.40" x2="108.75" y2="491.90" stroke="#2e2e2e" stroke-width="0.95" stroke-linecap="round"/>
<line x1="105.40" y1="508.60" x2="114.75" y2="510.00" stroke="#2e2e2e" stroke-width="0.95" stroke-linecap="round"/>
<line x1="106.77" y1="510.27" x2="112.95" y2="511.20" stroke="#2e2e2e" stroke-width="0.75" stroke-linecap="round"/>
<line x1="83.60" y1="520.40" x2="74.90" y2="520.90" stroke="#2e2e2e" stroke-width="0.95" stroke-linecap="round"/>
<line x1="74.90" y1="520.90" x2="71.50" y2="529.50" stroke="#2e2e2e" stroke-width="0.95" stroke-linecap="round"/>
<line x1="71.50" y1="529.50" x2="79.70" y2="535.30" stroke="#2e2e2e" stroke-width="0.95" stroke-linecap="round"/>
<line x1="79.70" y1="535.30" x2="86.40" y2="530.50" stroke="#2e2e2e" stroke-width="0.95" stroke-linecap="round"/>
<line x1="71.50" y1="529.50" x2="62.90" y2="532.90" stroke="#2e2e2e" stroke-width="0.95" stroke-linecap="round"/>
<line x1="69.50" y1="528.73" x2="63.83" y2="530.97" stroke="#2e2e2e" stroke-width="0.75" stroke-linecap="round"/>
<line x1="79.70" y1="535.30" x2="80.20" y2="544.60" stroke="#2e2e2e" stroke-width="0.95" stroke-linecap="round"/>
<line x1="78.34" y1="536.96" x2="78.67" y2="543.10" stroke="#2e2e2e" stroke-width="0.75" stroke-linecap="round"/>
<line x1="80.20" y1="544.60" x2="71.30" y2="548.70" stroke="#2e2e2e" stroke-width="0.95" stroke-linecap="round"/>
<circle cx="101.90" cy="499.40" r="1.3" fill="#fff" stroke="#888" stroke-width="0.5"/>
<circle cx="114.75" cy="510.00" r="2.9" fill="#cc1484"/>
<circle cx="74.90" cy="520.90" r="3.0" fill="#e28b1c"/>
<circle cx="62.90" cy="532.90" r="2.9" fill="#c4c4c6"/>
<text x="74.90" y="522.12" font-size="3.4" text-anchor="middle" fill="#8a5a10">N</text>
<text x="70.40" y="519.75" font-size="3.2" text-anchor="middle" fill="#777">H</text>
<text x="68.50" y="548.65" font-size="3.2" text-anchor="middle" fill="#777">H</text>
<line x1="71.90" y1="577.50" x2="71.90" y2="586.20" stroke="#2e2e2e" stroke-width="0.95" stroke-linecap="round"/>
<line x1="71.90" y1="586.20" x2="80.60" y2="590.80" stroke="#2e2e2e" stroke-width="0.95" stroke-linecap="round"/>
<line x1="71.90" y1="586.20" x2="65.00" y2="590.80" stroke="#2e2e2e" stroke-width="0.95" stroke-linecap="round"/>
<line x1="65.00" y1="590.80" x2="55.80" y2="587.10" stroke="#2e2e2e" stroke-width="0.95" stroke-linecap="round"/>
<line x1="63.98" y1="588.83" x2="57.91" y2="586.38" stroke="#2e2e2e" stroke-width="0.75" stroke-linecap="round"/>
<circle cx="55.80" cy="587.10" r="1.3" fill="#fff" stroke="#888" stroke-width="0.5"/>
<line x1="65.00" y1="590.80" x2="64.40" y2="601.30" stroke="#2e2e2e" stroke-width="0.95" stroke-linecap="round"/>
<line x1="64.40" y1="601.30" x2="55.80" y2="605.40" stroke="#2e2e2e" stroke-width="0.95" stroke-linecap="round"/>
<line x1="55.80" y1="605.40" x2="48.10" y2="601.30" stroke="#2e2e2e" stroke-width="0.95" stroke-linecap="round"/>
<line x1="48.10" y1="601.30" x2="40.40" y2="605.90" stroke="#2e2e2e" stroke-width="0.95" stroke-linecap="round"/>
<line x1="40.40" y1="605.90" x2="40.40" y2="615.20" stroke="#2e2e2e" stroke-width="0.95" stroke-linecap="round"/>
<line x1="40.40" y1="615.20" x2="48.60" y2="620.30" stroke="#2e2e2e" stroke-width="0.95" stroke-linecap="round"/>
<line x1="48.60" y1="620.30" x2="56.30" y2="615.50" stroke="#2e2e2e" stroke-width="0.95" stroke-linecap="round"/>
<line x1="56.30" y1="615.50" x2="55.80" y2="605.40" stroke="#2e2e2e" stroke-width="0.95" stroke-linecap="round"/>
<line x1="40.40" y1="615.20" x2="32.20" y2="620.80" stroke="#2e2e2e" stroke-width="0.95" stroke-linecap="round"/>
<text x="71.90" y="587.35" font-size="3.2" text-anchor="middle" fill="#555">N</text>
<text x="55.80" y="606.55" font-size="3.2" text-anchor="middle" fill="#555">N</text>
<text x="40.40" y="616.35" font-size="3.2" text-anchor="middle" fill="#555">N</text>
<line x1="177.60" y1="558.00" x2="186.20" y2="562.30" stroke="#2e2e2e" stroke-width="0.95" stroke-linecap="round"/>
<polygon points="183.56,560.97 195.85,554.31 206.86,560.97 206.86,573.13 195.85,579.79 184.72,573.13" fill="none" stroke="#d3e4f4" stroke-width="0.9" stroke-linejoin="round"/>
<line x1="186.20" y1="562.30" x2="195.80" y2="557.10" stroke="#2e2e2e" stroke-width="0.95" stroke-linecap="round"/>
<line x1="195.80" y1="557.10" x2="204.40" y2="562.30" stroke="#2e2e2e" stroke-width="0.95" stroke-linecap="round"/>
<line x1="196.51" y1="559.22" x2="202.19" y2="562.66" stroke="#2e2e2e" stroke-width="0.75" stroke-linecap="round"/>
<line x1="204.40" y1="562.30" x2="204.40" y2="571.80" stroke="#2e2e2e" stroke-width="0.95" stroke-linecap="round"/>
<line x1="204.40" y1="571.80" x2="195.80" y2="577.00" stroke="#2e2e2e" stroke-width="0.95" stroke-linecap="round"/>
<line x1="202.19" y1="571.44" x2="196.51" y2="574.88" stroke="#2e2e2e" stroke-width="0.75" stroke-linecap="round"/>
<line x1="195.80" y1="577.00" x2="187.10" y2="571.80" stroke="#2e2e2e" stroke-width="0.95" stroke-linecap="round"/>
<line x1="187.10" y1="571.80" x2="186.20" y2="562.30" stroke="#2e2e2e" stroke-width="0.95" stroke-linecap="round"/>
<line x1="188.39" y1="570.05" x2="187.80" y2="563.78" stroke="#2e2e2e" stroke-width="0.75" stroke-linecap="round"/>
<line x1="168.90" y1="562.30" x2="169.80" y2="572.70" stroke="#2e2e2e" stroke-width="0.95" stroke-linecap="round"/>
<polygon points="169.67,569.91 181.83,576.57 181.83,588.73 170.83,595.39 158.67,588.73 158.67,576.57" fill="none" stroke="#d9ebcf" stroke-width="0.9" stroke-linejoin="round"/>
<line x1="169.80" y1="572.70" x2="179.30" y2="577.90" stroke="#2e2e2e" stroke-width="0.95" stroke-linecap="round"/>
<line x1="179.30" y1="577.90" x2="179.30" y2="587.40" stroke="#2e2e2e" stroke-width="0.95" stroke-linecap="round"/>
<line x1="177.85" y1="579.51" x2="177.85" y2="585.78" stroke="#2e2e2e" stroke-width="0.75" stroke-linecap="round"/>
<line x1="179.30" y1="587.40" x2="170.70" y2="592.60" stroke="#2e2e2e" stroke-width="0.95" stroke-linecap="round"/>
<line x1="170.70" y1="592.60" x2="161.20" y2="587.40" stroke="#2e2e2e" stroke-width="0.95" stroke-linecap="round"/>
<line x1="169.78" y1="590.44" x2="163.51" y2="587.01" stroke="#2e2e2e" stroke-width="0.75" stroke-linecap="round"/>
<line x1="161.20" y1="587.40" x2="161.20" y2="577.90" stroke="#2e2e2e" stroke-width="0.95" stroke-linecap="round"/>
<line x1="161.20" y1="577.90" x2="169.80" y2="572.70" stroke="#2e2e2e" stroke-width="0.95" stroke-linecap="round"/>
<line x1="163.41" y1="578.26" x2="169.09" y2="574.82" stroke="#2e2e2e" stroke-width="0.75" stroke-linecap="round"/>
<polygon points="177.34,531.01 186.17,521.03 198.33,524.35 202.81,536.64 195.00,544.32 182.84,542.15" fill="none" stroke="#d9ebcf" stroke-width="0.9" stroke-linejoin="round"/>
<line x1="180.20" y1="531.50" x2="187.10" y2="523.70" stroke="#2e2e2e" stroke-width="0.95" stroke-linecap="round"/>
<line x1="182.46" y1="531.13" x2="187.01" y2="525.99" stroke="#2e2e2e" stroke-width="0.75" stroke-linecap="round"/>
<line x1="187.10" y1="523.70" x2="196.60" y2="526.30" stroke="#2e2e2e" stroke-width="0.95" stroke-linecap="round"/>
<line x1="196.60" y1="526.30" x2="200.10" y2="535.90" stroke="#2e2e2e" stroke-width="0.95" stroke-linecap="round"/>
<line x1="195.83" y1="528.43" x2="198.14" y2="534.76" stroke="#2e2e2e" stroke-width="0.75" stroke-linecap="round"/>
<line x1="200.10" y1="535.90" x2="194.00" y2="541.90" stroke="#2e2e2e" stroke-width="0.95" stroke-linecap="round"/>
<line x1="194.00" y1="541.90" x2="184.50" y2="540.20" stroke="#2e2e2e" stroke-width="0.95" stroke-linecap="round"/>
<line x1="192.64" y1="540.18" x2="186.37" y2="539.06" stroke="#2e2e2e" stroke-width="0.75" stroke-linecap="round"/>
<line x1="184.50" y1="540.20" x2="180.20" y2="531.50" stroke="#2e2e2e" stroke-width="0.95" stroke-linecap="round"/>
<line x1="196.60" y1="526.30" x2="203.60" y2="518.60" stroke="#2e2e2e" stroke-width="0.95" stroke-linecap="round"/>
<line x1="203.60" y1="518.60" x2="200.10" y2="509.00" stroke="#2e2e2e" stroke-width="0.95" stroke-linecap="round"/>
<line x1="200.10" y1="509.00" x2="206.20" y2="501.20" stroke="#2e2e2e" stroke-width="0.95" stroke-linecap="round"/>
<line x1="203.60" y1="518.60" x2="213.10" y2="520.30" stroke="#2e2e2e" stroke-width="0.95" stroke-linecap="round"/>
<line x1="204.96" y1="520.32" x2="211.23" y2="521.44" stroke="#2e2e2e" stroke-width="0.75" stroke-linecap="round"/>
<line x1="180.20" y1="531.50" x2="171.20" y2="532.40" stroke="#2e2e2e" stroke-width="0.95" stroke-linecap="round"/>
<line x1="171.20" y1="532.40" x2="168.90" y2="542.80" stroke="#2e2e2e" stroke-width="0.95" stroke-linecap="round"/>
<line x1="168.90" y1="542.80" x2="177.60" y2="547.30" stroke="#2e2e2e" stroke-width="0.95" stroke-linecap="round"/>
<line x1="177.60" y1="547.30" x2="184.50" y2="540.20" stroke="#2e2e2e" stroke-width="0.95" stroke-linecap="round"/>
<line x1="168.90" y1="542.80" x2="159.40" y2="545.70" stroke="#2e2e2e" stroke-width="0.95" stroke-linecap="round"/>
<line x1="166.86" y1="541.91" x2="160.59" y2="543.82" stroke="#2e2e2e" stroke-width="0.75" stroke-linecap="round"/>
<line x1="177.60" y1="547.30" x2="177.60" y2="558.00" stroke="#2e2e2e" stroke-width="0.95" stroke-linecap="round"/>
<line x1="176.15" y1="549.12" x2="176.15" y2="556.18" stroke="#2e2e2e" stroke-width="0.75" stroke-linecap="round"/>
<line x1="177.60" y1="558.00" x2="168.90" y2="562.30" stroke="#2e2e2e" stroke-width="0.95" stroke-linecap="round"/>
<circle cx="200.10" cy="509.00" r="1.3" fill="#fff" stroke="#888" stroke-width="0.5"/>
<circle cx="213.10" cy="520.30" r="2.9" fill="#cc1484"/>
<circle cx="171.20" cy="532.40" r="3.0" fill="#e28b1c"/>
<circle cx="159.40" cy="545.70" r="2.9" fill="#c4c4c6"/>
<text x="171.20" y="533.62" font-size="3.4" text-anchor="middle" fill="#8a5a10">N</text>
<text x="167.00" y="531.15" font-size="3.2" text-anchor="middle" fill="#777">H</text>
<text x="166.30" y="562.15" font-size="3.2" text-anchor="middle" fill="#777">H</text>
<line x1="170.70" y1="592.60" x2="170.70" y2="603.00" stroke="#2e2e2e" stroke-width="0.95" stroke-linecap="round"/>
<line x1="170.70" y1="603.00" x2="180.20" y2="607.30" stroke="#2e2e2e" stroke-width="0.95" stroke-linecap="round"/>
<line x1="171.72" y1="605.05" x2="177.99" y2="607.89" stroke="#2e2e2e" stroke-width="0.75" stroke-linecap="round"/>
<circle cx="180.20" cy="607.30" r="1.3" fill="#fff" stroke="#888" stroke-width="0.5"/>
<line x1="170.70" y1="603.00" x2="162.00" y2="607.30" stroke="#2e2e2e" stroke-width="0.95" stroke-linecap="round"/>
<line x1="162.00" y1="607.30" x2="154.20" y2="603.00" stroke="#2e2e2e" stroke-width="0.95" stroke-linecap="round"/>
<line x1="154.20" y1="603.00" x2="146.40" y2="607.30" stroke="#2e2e2e" stroke-width="0.95" stroke-linecap="round"/>
<line x1="146.40" y1="607.30" x2="145.60" y2="616.80" stroke="#2e2e2e" stroke-width="0.95" stroke-linecap="round"/>
<line x1="145.60" y1="616.80" x2="154.20" y2="622.90" stroke="#2e2e2e" stroke-width="0.95" stroke-linecap="round"/>
<line x1="154.20" y1="622.90" x2="162.90" y2="617.70" stroke="#2e2e2e" stroke-width="0.95" stroke-linecap="round"/>
<line x1="162.90" y1="617.70" x2="162.00" y2="607.30" stroke="#2e2e2e" stroke-width="0.95" stroke-linecap="round"/>
<text x="162.00" y="608.45" font-size="3.2" text-anchor="middle" fill="#555">N</text>
<text x="145.60" y="617.95" font-size="3.2" text-anchor="middle" fill="#555">N</text>
<text x="143.00" y="622.35" font-size="3.2" text-anchor="middle" fill="#555">H</text>
<line x1="267.80" y1="560.60" x2="273.90" y2="565.80" stroke="#2e2e2e" stroke-width="0.95" stroke-linecap="round"/>
<polygon points="271.56,564.15 281.55,559.67 292.55,566.33 293.71,578.49 282.57,583.99 271.56,577.46" fill="none" stroke="#d3e4f4" stroke-width="0.9" stroke-linejoin="round"/>
<line x1="273.90" y1="565.80" x2="281.70" y2="562.30" stroke="#2e2e2e" stroke-width="0.95" stroke-linecap="round"/>
<line x1="281.70" y1="562.30" x2="290.30" y2="567.50" stroke="#2e2e2e" stroke-width="0.95" stroke-linecap="round"/>
<line x1="282.41" y1="564.42" x2="288.09" y2="567.86" stroke="#2e2e2e" stroke-width="0.75" stroke-linecap="round"/>
<line x1="290.30" y1="567.50" x2="291.20" y2="577.00" stroke="#2e2e2e" stroke-width="0.95" stroke-linecap="round"/>
<line x1="291.20" y1="577.00" x2="282.50" y2="581.30" stroke="#2e2e2e" stroke-width="0.95" stroke-linecap="round"/>
<line x1="289.08" y1="576.43" x2="283.34" y2="579.27" stroke="#2e2e2e" stroke-width="0.75" stroke-linecap="round"/>
<line x1="282.50" y1="581.30" x2="273.90" y2="576.20" stroke="#2e2e2e" stroke-width="0.95" stroke-linecap="round"/>
<line x1="273.90" y1="576.20" x2="273.90" y2="565.80" stroke="#2e2e2e" stroke-width="0.95" stroke-linecap="round"/>
<line x1="275.35" y1="574.43" x2="275.35" y2="567.57" stroke="#2e2e2e" stroke-width="0.75" stroke-linecap="round"/>
<line x1="258.30" y1="563.20" x2="256.60" y2="572.70" stroke="#2e2e2e" stroke-width="0.95" stroke-linecap="round"/>
<line x1="256.60" y1="572.70" x2="264.00" y2="577.90" stroke="#2e2e2e" stroke-width="0.95" stroke-linecap="round"/>
<line x1="264.00" y1="577.90" x2="263.50" y2="588.30" stroke="#2e2e2e" stroke-width="0.95" stroke-linecap="round"/>
<line x1="262.47" y1="579.60" x2="262.14" y2="586.46" stroke="#2e2e2e" stroke-width="0.75" stroke-linecap="round"/>
<line x1="263.50" y1="588.30" x2="254.50" y2="591.70" stroke="#2e2e2e" stroke-width="0.95" stroke-linecap="round"/>
<line x1="254.50" y1="591.70" x2="246.20" y2="586.50" stroke="#2e2e2e" stroke-width="0.95" stroke-linecap="round"/>
<line x1="253.86" y1="589.59" x2="248.38" y2="586.16" stroke="#2e2e2e" stroke-width="0.75" stroke-linecap="round"/>
<line x1="246.20" y1="586.50" x2="247.00" y2="577.00" stroke="#2e2e2e" stroke-width="0.95" stroke-linecap="round"/>
<line x1="247.00" y1="577.00" x2="256.60" y2="572.70" stroke="#2e2e2e" stroke-width="0.95" stroke-linecap="round"/>
<line x1="249.22" y1="577.59" x2="255.56" y2="574.75" stroke="#2e2e2e" stroke-width="0.75" stroke-linecap="round"/>
<polygon points="271.83,535.69 282.97,528.01 295.13,532.36 297.30,545.67 287.32,552.33 275.16,547.85" fill="none" stroke="#d9ebcf" stroke-width="0.9" stroke-linejoin="round"/>
<line x1="274.70" y1="536.70" x2="283.40" y2="530.70" stroke="#2e2e2e" stroke-width="0.95" stroke-linecap="round"/>
<line x1="277.00" y1="536.87" x2="282.74" y2="532.91" stroke="#2e2e2e" stroke-width="0.75" stroke-linecap="round"/>
<line x1="283.40" y1="530.70" x2="292.90" y2="534.10" stroke="#2e2e2e" stroke-width="0.95" stroke-linecap="round"/>
<line x1="292.90" y1="534.10" x2="294.60" y2="544.50" stroke="#2e2e2e" stroke-width="0.95" stroke-linecap="round"/>
<line x1="291.76" y1="536.10" x2="292.88" y2="542.97" stroke="#2e2e2e" stroke-width="0.75" stroke-linecap="round"/>
<line x1="294.60" y1="544.50" x2="286.80" y2="549.70" stroke="#2e2e2e" stroke-width="0.95" stroke-linecap="round"/>
<line x1="286.80" y1="549.70" x2="277.30" y2="546.20" stroke="#2e2e2e" stroke-width="0.95" stroke-linecap="round"/>
<line x1="285.69" y1="547.74" x2="279.42" y2="545.43" stroke="#2e2e2e" stroke-width="0.75" stroke-linecap="round"/>
<line x1="277.30" y1="546.20" x2="274.70" y2="536.70" stroke="#2e2e2e" stroke-width="0.95" stroke-linecap="round"/>
<line x1="292.90" y1="534.10" x2="300.70" y2="528.10" stroke="#2e2e2e" stroke-width="0.95" stroke-linecap="round"/>
<line x1="300.70" y1="528.10" x2="298.60" y2="518.60" stroke="#2e2e2e" stroke-width="0.95" stroke-linecap="round"/>
<line x1="298.60" y1="518.60" x2="306.70" y2="512.20" stroke="#2e2e2e" stroke-width="0.95" stroke-linecap="round"/>
<line x1="300.70" y1="528.10" x2="309.30" y2="531.50" stroke="#2e2e2e" stroke-width="0.95" stroke-linecap="round"/>
<line x1="301.63" y1="530.03" x2="307.30" y2="532.27" stroke="#2e2e2e" stroke-width="0.75" stroke-linecap="round"/>
<line x1="274.70" y1="536.70" x2="266.40" y2="535.30" stroke="#2e2e2e" stroke-width="0.95" stroke-linecap="round"/>
<line x1="266.40" y1="535.30" x2="262.60" y2="544.50" stroke="#2e2e2e" stroke-width="0.95" stroke-linecap="round"/>
<line x1="262.60" y1="544.50" x2="269.50" y2="550.40" stroke="#2e2e2e" stroke-width="0.95" stroke-linecap="round"/>
<line x1="269.50" y1="550.40" x2="277.30" y2="546.20" stroke="#2e2e2e" stroke-width="0.95" stroke-linecap="round"/>
<line x1="262.60" y1="544.50" x2="252.20" y2="545.00" stroke="#2e2e2e" stroke-width="0.95" stroke-linecap="round"/>
<line x1="260.76" y1="543.14" x2="253.90" y2="543.47" stroke="#2e2e2e" stroke-width="0.75" stroke-linecap="round"/>
<line x1="269.50" y1="550.40" x2="267.80" y2="560.60" stroke="#2e2e2e" stroke-width="0.95" stroke-linecap="round"/>
<line x1="267.78" y1="551.90" x2="266.66" y2="558.63" stroke="#2e2e2e" stroke-width="0.75" stroke-linecap="round"/>
<line x1="267.80" y1="560.60" x2="258.30" y2="563.20" stroke="#2e2e2e" stroke-width="0.95" stroke-linecap="round"/>
<circle cx="298.60" cy="518.60" r="1.3" fill="#fff" stroke="#888" stroke-width="0.5"/>
<circle cx="309.30" cy="531.50" r="2.9" fill="#cc1484"/>
<circle cx="266.40" cy="535.30" r="3.0" fill="#e28b1c"/>
<circle cx="252.20" cy="545.00" r="2.9" fill="#c4c4c6"/>
<text x="266.40" y="536.52" font-size="3.4" text-anchor="middle" fill="#8a5a10">N</text>
<text x="263.00" y="533.65" font-size="3.2" text-anchor="middle" fill="#777">H</text>
<text x="254.80" y="562.65" font-size="3.2" text-anchor="middle" fill="#777">H</text>
<line x1="254.50" y1="591.70" x2="253.10" y2="601.20" stroke="#2e2e2e" stroke-width="0.95" stroke-linecap="round"/>
<line x1="253.10" y1="601.20" x2="259.20" y2="608.20" stroke="#2e2e2e" stroke-width="0.95" stroke-linecap="round"/>
<line x1="253.10" y1="601.20" x2="242.70" y2="604.70" stroke="#2e2e2e" stroke-width="0.95" stroke-linecap="round"/>
<line x1="242.70" y1="604.70" x2="239.20" y2="596.00" stroke="#2e2e2e" stroke-width="0.95" stroke-linecap="round"/>
<line x1="243.45" y1="602.68" x2="241.14" y2="596.94" stroke="#2e2e2e" stroke-width="0.75" stroke-linecap="round"/>
<circle cx="239.20" cy="596.00" r="1.3" fill="#fff" stroke="#888" stroke-width="0.5"/>
<line x1="242.70" y1="604.70" x2="233.20" y2="609.00" stroke="#2e2e2e" stroke-width="0.95" stroke-linecap="round"/>
<line x1="242.70" y1="604.70" x2="246.20" y2="615.10" stroke="#2e2e2e" stroke-width="0.95" stroke-linecap="round"/>
<line x1="241.92" y1="606.93" x2="244.23" y2="613.79" stroke="#2e2e2e" stroke-width="0.75" stroke-linecap="round"/>
<circle cx="246.20" cy="615.10" r="2.9" fill="#a8173c"/>
<text x="253.10" y="602.35" font-size="3.2" text-anchor="middle" fill="#555">N</text>
<text x="242.70" y="605.85" font-size="3.2" text-anchor="middle" fill="#555">S</text>
<line x1="362.30" y1="564.90" x2="370.10" y2="570.10" stroke="#2e2e2e" stroke-width="0.95" stroke-linecap="round"/>
<polygon points="367.79,568.45 378.93,563.97 388.91,570.62 388.91,582.78 377.77,588.42 367.79,581.76" fill="none" stroke="#d3e4f4" stroke-width="0.9" stroke-linejoin="round"/>
<line x1="370.10" y1="570.10" x2="378.80" y2="566.60" stroke="#2e2e2e" stroke-width="0.95" stroke-linecap="round"/>
<line x1="378.80" y1="566.60" x2="386.60" y2="571.80" stroke="#2e2e2e" stroke-width="0.95" stroke-linecap="round"/>
<line x1="379.32" y1="568.69" x2="384.47" y2="572.12" stroke="#2e2e2e" stroke-width="0.75" stroke-linecap="round"/>
<line x1="386.60" y1="571.80" x2="386.60" y2="581.30" stroke="#2e2e2e" stroke-width="0.95" stroke-linecap="round"/>
<line x1="386.60" y1="581.30" x2="377.90" y2="585.70" stroke="#2e2e2e" stroke-width="0.95" stroke-linecap="round"/>
<line x1="384.47" y1="580.75" x2="378.72" y2="583.66" stroke="#2e2e2e" stroke-width="0.75" stroke-linecap="round"/>
<line x1="377.90" y1="585.70" x2="370.10" y2="580.50" stroke="#2e2e2e" stroke-width="0.95" stroke-linecap="round"/>
<line x1="370.10" y1="580.50" x2="370.10" y2="570.10" stroke="#2e2e2e" stroke-width="0.95" stroke-linecap="round"/>
<line x1="371.55" y1="578.73" x2="371.55" y2="571.87" stroke="#2e2e2e" stroke-width="0.75" stroke-linecap="round"/>
<line x1="386.60" y1="571.80" x2="396.10" y2="569.20" stroke="#2e2e2e" stroke-width="0.95" stroke-linecap="round"/>
<line x1="396.10" y1="569.20" x2="402.20" y2="577.90" stroke="#2e2e2e" stroke-width="0.95" stroke-linecap="round"/>
<line x1="402.20" y1="577.90" x2="396.10" y2="585.70" stroke="#2e2e2e" stroke-width="0.95" stroke-linecap="round"/>
<line x1="396.10" y1="585.70" x2="386.60" y2="581.30" stroke="#2e2e2e" stroke-width="0.95" stroke-linecap="round"/>
<circle cx="396.10" cy="569.20" r="1.3" fill="#fff" stroke="#888" stroke-width="0.5"/>
<circle cx="396.10" cy="585.70" r="1.3" fill="#fff" stroke="#888" stroke-width="0.5"/>
<line x1="352.80" y1="568.40" x2="352.80" y2="578.70" stroke="#2e2e2e" stroke-width="0.95" stroke-linecap="round"/>
<line x1="352.80" y1="578.70" x2="361.50" y2="583.90" stroke="#2e2e2e" stroke-width="0.95" stroke-linecap="round"/>
<line x1="361.50" y1="583.90" x2="361.50" y2="594.30" stroke="#2e2e2e" stroke-width="0.95" stroke-linecap="round"/>
<line x1="360.05" y1="585.67" x2="360.05" y2="592.53" stroke="#2e2e2e" stroke-width="0.75" stroke-linecap="round"/>
<line x1="361.50" y1="594.30" x2="352.00" y2="598.70" stroke="#2e2e2e" stroke-width="0.95" stroke-linecap="round"/>
<line x1="352.00" y1="598.70" x2="343.30" y2="593.50" stroke="#2e2e2e" stroke-width="0.95" stroke-linecap="round"/>
<line x1="351.26" y1="596.57" x2="345.52" y2="593.14" stroke="#2e2e2e" stroke-width="0.75" stroke-linecap="round"/>
<line x1="343.30" y1="593.50" x2="343.30" y2="583.10" stroke="#2e2e2e" stroke-width="0.95" stroke-linecap="round"/>
<line x1="343.30" y1="583.10" x2="352.80" y2="578.70" stroke="#2e2e2e" stroke-width="0.95" stroke-linecap="round"/>
<line x1="345.52" y1="583.67" x2="351.79" y2="580.76" stroke="#2e2e2e" stroke-width="0.75" stroke-linecap="round"/>
<polygon points="366.72,539.51 375.56,531.07 387.72,533.24 389.89,546.55 381.06,553.85 370.05,551.67" fill="none" stroke="#d9ebcf" stroke-width="0.9" stroke-linejoin="round"/>
<line x1="369.30" y1="540.20" x2="376.20" y2="533.60" stroke="#2e2e2e" stroke-width="0.95" stroke-linecap="round"/>
<line x1="371.48" y1="540.13" x2="376.03" y2="535.77" stroke="#2e2e2e" stroke-width="0.75" stroke-linecap="round"/>
<line x1="376.20" y1="533.60" x2="385.70" y2="535.30" stroke="#2e2e2e" stroke-width="0.95" stroke-linecap="round"/>
<line x1="385.70" y1="535.30" x2="387.40" y2="545.70" stroke="#2e2e2e" stroke-width="0.95" stroke-linecap="round"/>
<line x1="384.56" y1="537.30" x2="385.68" y2="544.17" stroke="#2e2e2e" stroke-width="0.75" stroke-linecap="round"/>
<line x1="387.40" y1="545.70" x2="380.50" y2="551.40" stroke="#2e2e2e" stroke-width="0.95" stroke-linecap="round"/>
<line x1="380.50" y1="551.40" x2="371.90" y2="549.70" stroke="#2e2e2e" stroke-width="0.95" stroke-linecap="round"/>
<line x1="379.32" y1="549.69" x2="373.64" y2="548.57" stroke="#2e2e2e" stroke-width="0.75" stroke-linecap="round"/>
<line x1="371.90" y1="549.70" x2="369.30" y2="540.20" stroke="#2e2e2e" stroke-width="0.95" stroke-linecap="round"/>
<line x1="385.70" y1="535.30" x2="391.80" y2="529.80" stroke="#2e2e2e" stroke-width="0.95" stroke-linecap="round"/>
<line x1="391.80" y1="529.80" x2="390.00" y2="519.40" stroke="#2e2e2e" stroke-width="0.95" stroke-linecap="round"/>
<line x1="390.00" y1="519.40" x2="397.30" y2="512.50" stroke="#2e2e2e" stroke-width="0.95" stroke-linecap="round"/>
<line x1="391.80" y1="529.80" x2="402.20" y2="531.90" stroke="#2e2e2e" stroke-width="0.95" stroke-linecap="round"/>
<line x1="393.28" y1="531.58" x2="400.15" y2="532.96" stroke="#2e2e2e" stroke-width="0.75" stroke-linecap="round"/>
<line x1="369.30" y1="540.20" x2="358.90" y2="539.80" stroke="#2e2e2e" stroke-width="0.95" stroke-linecap="round"/>
<line x1="358.90" y1="539.80" x2="355.40" y2="548.80" stroke="#2e2e2e" stroke-width="0.95" stroke-linecap="round"/>
<line x1="355.40" y1="548.80" x2="363.20" y2="554.70" stroke="#2e2e2e" stroke-width="0.95" stroke-linecap="round"/>
<line x1="363.20" y1="554.70" x2="371.90" y2="549.70" stroke="#2e2e2e" stroke-width="0.95" stroke-linecap="round"/>
<line x1="355.40" y1="548.80" x2="345.20" y2="550.80" stroke="#2e2e2e" stroke-width="0.95" stroke-linecap="round"/>
<line x1="353.39" y1="547.72" x2="346.65" y2="549.04" stroke="#2e2e2e" stroke-width="0.75" stroke-linecap="round"/>
<line x1="363.20" y1="554.70" x2="362.30" y2="564.90" stroke="#2e2e2e" stroke-width="0.95" stroke-linecap="round"/>
<line x1="361.60" y1="556.31" x2="361.01" y2="563.04" stroke="#2e2e2e" stroke-width="0.75" stroke-linecap="round"/>
<line x1="362.30" y1="564.90" x2="352.80" y2="568.40" stroke="#2e2e2e" stroke-width="0.95" stroke-linecap="round"/>
<circle cx="390.00" cy="519.40" r="1.3" fill="#fff" stroke="#888" stroke-width="0.5"/>
<circle cx="402.20" cy="531.90" r="2.9" fill="#cc1484"/>
<circle cx="358.90" cy="539.80" r="3.0" fill="#e28b1c"/>
<circle cx="345.20" cy="550.80" r="2.9" fill="#c4c4c6"/>
<text x="358.90" y="541.02" font-size="3.4" text-anchor="middle" fill="#8a5a10">N</text>
<text x="355.00" y="538.15" font-size="3.2" text-anchor="middle" fill="#777">H</text>
<text x="351.00" y="567.15" font-size="3.2" text-anchor="middle" fill="#777">H</text>
<circle cx="352.8" cy="568.4" r="2.2" fill="#d8d8da"/>
<line x1="352.00" y1="598.70" x2="352.00" y2="608.20" stroke="#2e2e2e" stroke-width="0.95" stroke-linecap="round"/>
<line x1="352.00" y1="608.20" x2="341.60" y2="611.60" stroke="#2e2e2e" stroke-width="0.95" stroke-linecap="round"/>
<line x1="341.60" y1="611.60" x2="332.90" y2="606.40" stroke="#2e2e2e" stroke-width="0.95" stroke-linecap="round"/>
<line x1="341.60" y1="611.60" x2="341.60" y2="622.00" stroke="#2e2e2e" stroke-width="0.95" stroke-linecap="round"/>
<text x="341.60" y="612.75" font-size="3.2" text-anchor="middle" fill="#555">N</text>
<line x1="468.40" y1="551.00" x2="475.90" y2="552.80" stroke="#2e2e2e" stroke-width="0.95" stroke-linecap="round"/>
<line x1="475.90" y1="552.80" x2="482.80" y2="548.80" stroke="#2e2e2e" stroke-width="0.95" stroke-linecap="round"/>
<line x1="482.80" y1="548.80" x2="489.80" y2="551.90" stroke="#2e2e2e" stroke-width="0.95" stroke-linecap="round"/>
<line x1="483.40" y1="550.65" x2="488.02" y2="552.70" stroke="#2e2e2e" stroke-width="0.75" stroke-linecap="round"/>
<line x1="489.80" y1="551.90" x2="489.80" y2="559.70" stroke="#2e2e2e" stroke-width="0.95" stroke-linecap="round"/>
<line x1="489.80" y1="559.70" x2="483.70" y2="563.20" stroke="#2e2e2e" stroke-width="0.95" stroke-linecap="round"/>
<line x1="488.04" y1="559.04" x2="484.02" y2="561.35" stroke="#2e2e2e" stroke-width="0.75" stroke-linecap="round"/>
<line x1="483.70" y1="563.20" x2="476.80" y2="559.70" stroke="#2e2e2e" stroke-width="0.95" stroke-linecap="round"/>
<line x1="476.80" y1="559.70" x2="475.90" y2="552.80" stroke="#2e2e2e" stroke-width="0.95" stroke-linecap="round"/>
<line x1="478.08" y1="558.34" x2="477.49" y2="553.79" stroke="#2e2e2e" stroke-width="0.75" stroke-linecap="round"/>
<line x1="489.80" y1="551.90" x2="495.80" y2="547.10" stroke="#2e2e2e" stroke-width="0.95" stroke-linecap="round"/>
<line x1="495.80" y1="547.10" x2="502.70" y2="552.80" stroke="#2e2e2e" stroke-width="0.95" stroke-linecap="round"/>
<line x1="502.70" y1="552.80" x2="498.40" y2="560.20" stroke="#2e2e2e" stroke-width="0.95" stroke-linecap="round"/>
<line x1="498.40" y1="560.20" x2="489.80" y2="559.70" stroke="#2e2e2e" stroke-width="0.95" stroke-linecap="round"/>
<circle cx="495.80" cy="547.10" r="1.3" fill="#fff" stroke="#888" stroke-width="0.5"/>
<circle cx="498.40" cy="560.20" r="1.3" fill="#fff" stroke="#888" stroke-width="0.5"/>
<line x1="462.10" y1="555.40" x2="464.00" y2="563.20" stroke="#2e2e2e" stroke-width="0.95" stroke-linecap="round"/>
<line x1="464.00" y1="563.20" x2="472.50" y2="567.50" stroke="#2e2e2e" stroke-width="0.95" stroke-linecap="round"/>
<line x1="472.50" y1="567.50" x2="472.50" y2="576.20" stroke="#2e2e2e" stroke-width="0.95" stroke-linecap="round"/>
<line x1="471.05" y1="568.98" x2="471.05" y2="574.72" stroke="#2e2e2e" stroke-width="0.75" stroke-linecap="round"/>
<line x1="472.50" y1="576.20" x2="465.50" y2="579.60" stroke="#2e2e2e" stroke-width="0.95" stroke-linecap="round"/>
<line x1="465.50" y1="579.60" x2="458.60" y2="575.30" stroke="#2e2e2e" stroke-width="0.95" stroke-linecap="round"/>
<line x1="465.09" y1="577.64" x2="460.54" y2="574.80" stroke="#2e2e2e" stroke-width="0.75" stroke-linecap="round"/>
<line x1="458.60" y1="575.30" x2="458.60" y2="567.20" stroke="#2e2e2e" stroke-width="0.95" stroke-linecap="round"/>
<line x1="458.60" y1="567.20" x2="464.00" y2="563.20" stroke="#2e2e2e" stroke-width="0.95" stroke-linecap="round"/>
<line x1="460.38" y1="567.69" x2="463.95" y2="565.05" stroke="#2e2e2e" stroke-width="0.75" stroke-linecap="round"/>
<polygon points="467.25,531.53 471.35,522.70 481.20,521.55 486.32,531.53 481.20,540.49 472.37,540.49" fill="none" stroke="#d9ebcf" stroke-width="0.9" stroke-linejoin="round"/>
<line x1="469.30" y1="531.50" x2="472.50" y2="524.60" stroke="#2e2e2e" stroke-width="0.95" stroke-linecap="round"/>
<line x1="471.16" y1="530.94" x2="473.27" y2="526.38" stroke="#2e2e2e" stroke-width="0.75" stroke-linecap="round"/>
<line x1="472.50" y1="524.60" x2="480.20" y2="523.70" stroke="#2e2e2e" stroke-width="0.95" stroke-linecap="round"/>
<line x1="480.20" y1="523.70" x2="484.20" y2="531.50" stroke="#2e2e2e" stroke-width="0.95" stroke-linecap="round"/>
<line x1="479.59" y1="525.69" x2="482.23" y2="530.84" stroke="#2e2e2e" stroke-width="0.75" stroke-linecap="round"/>
<line x1="484.20" y1="531.50" x2="480.20" y2="538.50" stroke="#2e2e2e" stroke-width="0.95" stroke-linecap="round"/>
<line x1="480.20" y1="538.50" x2="473.30" y2="538.50" stroke="#2e2e2e" stroke-width="0.95" stroke-linecap="round"/>
<line x1="479.03" y1="537.05" x2="474.47" y2="537.05" stroke="#2e2e2e" stroke-width="0.75" stroke-linecap="round"/>
<line x1="473.30" y1="538.50" x2="469.30" y2="531.50" stroke="#2e2e2e" stroke-width="0.95" stroke-linecap="round"/>
<line x1="480.20" y1="523.70" x2="482.80" y2="517.70" stroke="#2e2e2e" stroke-width="0.95" stroke-linecap="round"/>
<line x1="482.80" y1="517.70" x2="479.70" y2="510.40" stroke="#2e2e2e" stroke-width="0.95" stroke-linecap="round"/>
<line x1="479.70" y1="510.40" x2="484.90" y2="504.20" stroke="#2e2e2e" stroke-width="0.95" stroke-linecap="round"/>
<line x1="482.80" y1="517.70" x2="492.40" y2="517.70" stroke="#2e2e2e" stroke-width="0.95" stroke-linecap="round"/>
<line x1="484.43" y1="519.15" x2="490.77" y2="519.15" stroke="#2e2e2e" stroke-width="0.75" stroke-linecap="round"/>
<line x1="469.30" y1="531.50" x2="460.70" y2="532.40" stroke="#2e2e2e" stroke-width="0.95" stroke-linecap="round"/>
<line x1="460.70" y1="532.40" x2="458.60" y2="540.20" stroke="#2e2e2e" stroke-width="0.95" stroke-linecap="round"/>
<line x1="458.60" y1="540.20" x2="467.30" y2="542.80" stroke="#2e2e2e" stroke-width="0.95" stroke-linecap="round"/>
<line x1="467.30" y1="542.80" x2="473.30" y2="538.50" stroke="#2e2e2e" stroke-width="0.95" stroke-linecap="round"/>
<line x1="458.60" y1="540.20" x2="452.60" y2="543.70" stroke="#2e2e2e" stroke-width="0.95" stroke-linecap="round"/>
<line x1="456.85" y1="539.54" x2="452.89" y2="541.85" stroke="#2e2e2e" stroke-width="0.75" stroke-linecap="round"/>
<line x1="467.30" y1="542.80" x2="468.40" y2="551.00" stroke="#2e2e2e" stroke-width="0.95" stroke-linecap="round"/>
<line x1="466.05" y1="544.39" x2="466.78" y2="549.80" stroke="#2e2e2e" stroke-width="0.75" stroke-linecap="round"/>
<line x1="468.40" y1="551.00" x2="462.10" y2="555.40" stroke="#2e2e2e" stroke-width="0.95" stroke-linecap="round"/>
<circle cx="479.70" cy="510.40" r="1.3" fill="#fff" stroke="#888" stroke-width="0.5"/>
<circle cx="492.40" cy="517.70" r="2.3779999999999997" fill="#cc1484"/>
<circle cx="460.70" cy="532.40" r="2.46" fill="#e28b1c"/>
<circle cx="452.60" cy="543.70" r="2.3779999999999997" fill="#c4c4c6"/>
<text x="460.70" y="533.62" font-size="3.4" text-anchor="middle" fill="#8a5a10">N</text>
<text x="457.50" y="531.15" font-size="3.2" text-anchor="middle" fill="#777">H</text>
<text x="459.50" y="555.65" font-size="3.2" text-anchor="middle" fill="#777">H</text>
<line x1="465.50" y1="579.60" x2="468.10" y2="586.50" stroke="#2e2e2e" stroke-width="0.95" stroke-linecap="round"/>
<line x1="468.10" y1="586.50" x2="475.90" y2="589.10" stroke="#2e2e2e" stroke-width="0.95" stroke-linecap="round"/>
<line x1="468.10" y1="586.50" x2="462.90" y2="590.90" stroke="#2e2e2e" stroke-width="0.95" stroke-linecap="round"/>
<line x1="462.90" y1="590.90" x2="463.80" y2="599.50" stroke="#2e2e2e" stroke-width="0.95" stroke-linecap="round"/>
<line x1="461.61" y1="592.51" x2="462.20" y2="598.19" stroke="#2e2e2e" stroke-width="0.75" stroke-linecap="round"/>
<circle cx="463.80" cy="599.50" r="2.6" fill="#a8173c"/>
<line x1="462.90" y1="590.90" x2="455.20" y2="589.70" stroke="#2e2e2e" stroke-width="0.95" stroke-linecap="round"/>
<line x1="455.20" y1="589.70" x2="449.10" y2="593.50" stroke="#2e2e2e" stroke-width="0.95" stroke-linecap="round"/>
<line x1="449.10" y1="593.50" x2="442.20" y2="591.40" stroke="#2e2e2e" stroke-width="0.95" stroke-linecap="round"/>
<line x1="442.20" y1="591.40" x2="436.10" y2="596.90" stroke="#2e2e2e" stroke-width="0.95" stroke-linecap="round"/>
<line x1="436.10" y1="596.90" x2="437.00" y2="604.70" stroke="#2e2e2e" stroke-width="0.95" stroke-linecap="round"/>
<line x1="437.00" y1="604.70" x2="444.40" y2="607.30" stroke="#2e2e2e" stroke-width="0.95" stroke-linecap="round"/>
<line x1="444.40" y1="607.30" x2="450.80" y2="602.10" stroke="#2e2e2e" stroke-width="0.95" stroke-linecap="round"/>
<line x1="450.80" y1="602.10" x2="449.10" y2="593.50" stroke="#2e2e2e" stroke-width="0.95" stroke-linecap="round"/>
<circle cx="437.00" cy="604.70" r="2.6" fill="#2d4f8f"/>
<circle cx="450.80" cy="602.10" r="2.6" fill="#2d4f8f"/>
<line x1="437.00" y1="604.70" x2="431.80" y2="609.40" stroke="#2e2e2e" stroke-width="0.95" stroke-linecap="round"/>
<text x="468.10" y="587.65" font-size="3.2" text-anchor="middle" fill="#555">N</text>
<text x="449.10" y="594.65" font-size="3.2" text-anchor="middle" fill="#555">N</text>
</svg>
</body></html>
